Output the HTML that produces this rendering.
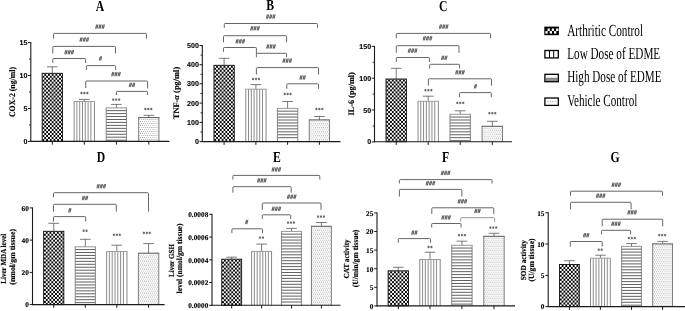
<!DOCTYPE html>
<html><head><meta charset="utf-8"><title>Figure</title>
<style>html,body{margin:0;padding:0;background:#fff;}svg{display:block;filter:blur(0.35px);}</style>
</head><body>
<svg width="685" height="311" viewBox="0 0 685 311" text-rendering="geometricPrecision">
<defs>
<pattern id="pc" width="2.3" height="2.3" patternUnits="userSpaceOnUse"><rect width="2.3" height="2.3" fill="#fff"/><rect x="0" y="0" width="1.25" height="1.25" fill="#000"/><rect x="1.15" y="1.15" width="1.25" height="1.25" fill="#000"/></pattern>
<pattern id="pd" width="2.2" height="4.1" patternUnits="userSpaceOnUse"><rect width="2.2" height="4.1" fill="#fff"/><rect x="0.3" y="0.6" width="0.8" height="0.8" fill="#b5b5b5"/><rect x="1.4" y="2.65" width="0.8" height="0.8" fill="#b5b5b5"/></pattern>
</defs>
<rect width="685" height="311" fill="#fff"/>
<line x1="52.3" y1="73.3" x2="52.3" y2="66.8" stroke="#555" stroke-width="0.78" />
<line x1="47" y1="66.8" x2="57.6" y2="66.8" stroke="#555" stroke-width="0.78" />
<pattern id="pc1" x="42.45" y="73.8" width="3.7" height="3.95" patternUnits="userSpaceOnUse"><rect width="3.7" height="3.95" fill="#000"/><rect x="0" y="0" width="1.85" height="1.975" fill="#fff"/><rect x="1.85" y="1.975" width="1.85" height="1.975" fill="#fff"/></pattern>
<rect x="42.15" y="73.3" width="20.3" height="68.1" fill="url(#pc1)" stroke="#111" stroke-width="0.9"/>
<line x1="84.3" y1="101.5" x2="84.3" y2="99.4" stroke="#555" stroke-width="0.78" />
<line x1="79" y1="99.4" x2="89.6" y2="99.4" stroke="#555" stroke-width="0.78" />
<rect x="74.15" y="101.5" width="20.3" height="39.9" fill="#fff" stroke="none"/>
<line x1="76.9" y1="101.5" x2="76.9" y2="141.4" stroke="#707070" stroke-width="0.8" />
<line x1="79.7" y1="101.5" x2="79.7" y2="141.4" stroke="#707070" stroke-width="0.8" />
<line x1="82.5" y1="101.5" x2="82.5" y2="141.4" stroke="#707070" stroke-width="0.8" />
<line x1="85.3" y1="101.5" x2="85.3" y2="141.4" stroke="#707070" stroke-width="0.8" />
<line x1="88.1" y1="101.5" x2="88.1" y2="141.4" stroke="#707070" stroke-width="0.8" />
<line x1="90.9" y1="101.5" x2="90.9" y2="141.4" stroke="#707070" stroke-width="0.8" />
<line x1="74.15" y1="101.5" x2="74.15" y2="141.4" stroke="#7a7a7a" stroke-width="0.9" />
<line x1="94.45" y1="101.5" x2="94.45" y2="141.4" stroke="#7a7a7a" stroke-width="0.9" />
<line x1="73.7" y1="101.5" x2="94.9" y2="101.5" stroke="#949494" stroke-width="0.9" />
<line x1="116.35" y1="107.9" x2="116.35" y2="104.4" stroke="#555" stroke-width="0.78" />
<line x1="111.05" y1="104.4" x2="121.65" y2="104.4" stroke="#555" stroke-width="0.78" />
<rect x="106.2" y="107.9" width="20.3" height="33.5" fill="#fff" stroke="none"/>
<line x1="106.2" y1="110.65" x2="126.5" y2="110.65" stroke="#383838" stroke-width="0.8" />
<line x1="106.2" y1="113.6" x2="126.5" y2="113.6" stroke="#383838" stroke-width="0.8" />
<line x1="106.2" y1="116.55" x2="126.5" y2="116.55" stroke="#383838" stroke-width="0.8" />
<line x1="106.2" y1="119.5" x2="126.5" y2="119.5" stroke="#383838" stroke-width="0.8" />
<line x1="106.2" y1="122.45" x2="126.5" y2="122.45" stroke="#383838" stroke-width="0.8" />
<line x1="106.2" y1="125.4" x2="126.5" y2="125.4" stroke="#383838" stroke-width="0.8" />
<line x1="106.2" y1="128.35" x2="126.5" y2="128.35" stroke="#383838" stroke-width="0.8" />
<line x1="106.2" y1="131.3" x2="126.5" y2="131.3" stroke="#383838" stroke-width="0.8" />
<line x1="106.2" y1="134.25" x2="126.5" y2="134.25" stroke="#383838" stroke-width="0.8" />
<line x1="106.2" y1="137.2" x2="126.5" y2="137.2" stroke="#383838" stroke-width="0.8" />
<line x1="106.2" y1="140.15" x2="126.5" y2="140.15" stroke="#383838" stroke-width="0.8" />
<line x1="106.2" y1="107.9" x2="106.2" y2="141.4" stroke="#7a7a7a" stroke-width="0.9" />
<line x1="126.5" y1="107.9" x2="126.5" y2="141.4" stroke="#7a7a7a" stroke-width="0.9" />
<line x1="105.75" y1="107.9" x2="126.95" y2="107.9" stroke="#8a8a8a" stroke-width="0.9" />
<line x1="148.8" y1="117.6" x2="148.8" y2="115.3" stroke="#555" stroke-width="0.78" />
<line x1="143.5" y1="115.3" x2="154.1" y2="115.3" stroke="#555" stroke-width="0.78" />
<pattern id="pd4x" x="138.85" y="119" width="2.06" height="4" patternUnits="userSpaceOnUse"><rect width="2.06" height="4" fill="#fff"/><rect x="0.25" y="0.15" width="0.75" height="0.75" fill="#777"/><rect x="1.28" y="2.15" width="0.75" height="0.75" fill="#777"/></pattern>
<rect x="138.65" y="117.6" width="20.3" height="23.8" fill="url(#pd4x)" stroke="none"/>
<line x1="138.65" y1="117.6" x2="138.65" y2="141.4" stroke="#6e6e6e" stroke-width="0.9" />
<line x1="158.95" y1="117.6" x2="158.95" y2="141.4" stroke="#6e6e6e" stroke-width="0.9" />
<line x1="138.2" y1="117.6" x2="159.4" y2="117.6" stroke="#555" stroke-width="1.0" />
<line x1="30.8" y1="42.1" x2="30.8" y2="141.9" stroke="#1a1a1a" stroke-width="1.1" />
<line x1="30.3" y1="141.4" x2="169.3" y2="141.4" stroke="#1a1a1a" stroke-width="1.1" />
<line x1="52.3" y1="141.4" x2="52.3" y2="144.6" stroke="#1a1a1a" stroke-width="1.0" />
<line x1="84.3" y1="141.4" x2="84.3" y2="144.6" stroke="#1a1a1a" stroke-width="1.0" />
<line x1="116.35" y1="141.4" x2="116.35" y2="144.6" stroke="#1a1a1a" stroke-width="1.0" />
<line x1="148.8" y1="141.4" x2="148.8" y2="144.6" stroke="#1a1a1a" stroke-width="1.0" />
<line x1="28" y1="141.4" x2="30.8" y2="141.4" stroke="#1a1a1a" stroke-width="1.0" />
<text x="27.4" y="143.95" font-family='"Liberation Sans", sans-serif' font-size="7.1" font-weight="bold" font-style="normal" text-anchor="end" fill="#000" stroke="#000" stroke-width="0.12">0</text>
<line x1="28" y1="108.5" x2="30.8" y2="108.5" stroke="#1a1a1a" stroke-width="1.0" />
<text x="27.4" y="111.05" font-family='"Liberation Sans", sans-serif' font-size="7.1" font-weight="bold" font-style="normal" text-anchor="end" fill="#000" stroke="#000" stroke-width="0.12">5</text>
<line x1="28" y1="75.5" x2="30.8" y2="75.5" stroke="#1a1a1a" stroke-width="1.0" />
<text x="27.4" y="78.05" font-family='"Liberation Sans", sans-serif' font-size="7.1" font-weight="bold" font-style="normal" text-anchor="end" fill="#000" stroke="#000" stroke-width="0.12">10</text>
<line x1="28" y1="42.6" x2="30.8" y2="42.6" stroke="#1a1a1a" stroke-width="1.0" />
<text x="27.4" y="45.15" font-family='"Liberation Sans", sans-serif' font-size="7.1" font-weight="bold" font-style="normal" text-anchor="end" fill="#000" stroke="#000" stroke-width="0.12">15</text>
<line x1="29" y1="125" x2="30.8" y2="125" stroke="#1a1a1a" stroke-width="0.9" />
<line x1="29" y1="92" x2="30.8" y2="92" stroke="#1a1a1a" stroke-width="0.9" />
<line x1="29" y1="59" x2="30.8" y2="59" stroke="#1a1a1a" stroke-width="0.9" />
<path d="M53.6 38.7 L53.6 34.2 Q53.6 33.4 54.4 33.4 L145.6 33.4 Q146.4 33.4 146.4 34.2 L146.4 38.7" fill="none" stroke="#555" stroke-width="0.9"/>
<path d="M95.65 25.9L98.3 25.9M95.3 27.3L97.95 27.3M98.85 25.9L101.5 25.9M98.5 27.3L101.15 27.3M102.05 25.9L104.7 25.9M101.7 27.3L104.35 27.3" fill="none" stroke="#555" stroke-width="0.5"/>
<path d="M96.74 24.45L95.62 28.75M97.98 24.45L96.86 28.75M99.94 24.45L98.82 28.75M101.18 24.45L100.06 28.75M103.14 24.45L102.02 28.75M104.38 24.45L103.26 28.75" fill="none" stroke="#484848" stroke-width="0.85"/>
<path d="M52.8 53.5 L52.8 47.2 Q52.8 46.4 53.6 46.4 L114.7 46.4 Q115.5 46.4 115.5 47.2 L115.5 53.5" fill="none" stroke="#555" stroke-width="0.9"/>
<path d="M79.95 38.8L82.6 38.8M79.6 40.2L82.25 40.2M83.15 38.8L85.8 38.8M82.8 40.2L85.45 40.2M86.35 38.8L89 38.8M86 40.2L88.65 40.2" fill="none" stroke="#555" stroke-width="0.5"/>
<path d="M81.04 37.35L79.92 41.65M82.28 37.35L81.16 41.65M84.24 37.35L83.12 41.65M85.48 37.35L84.36 41.65M87.44 37.35L86.32 41.65M88.68 37.35L87.56 41.65" fill="none" stroke="#484848" stroke-width="0.85"/>
<path d="M52.8 63 L52.8 59.3 Q52.8 58.5 53.6 58.5 L84.8 58.5 Q85.6 58.5 85.6 59.3 L85.6 63" fill="none" stroke="#555" stroke-width="0.9"/>
<path d="M64.85 51.5L67.5 51.5M64.5 52.9L67.15 52.9M68.05 51.5L70.7 51.5M67.7 52.9L70.35 52.9M71.25 51.5L73.9 51.5M70.9 52.9L73.55 52.9" fill="none" stroke="#555" stroke-width="0.5"/>
<path d="M65.94 50.05L64.82 54.35M67.18 50.05L66.06 54.35M69.14 50.05L68.02 54.35M70.38 50.05L69.26 54.35M72.34 50.05L71.22 54.35M73.58 50.05L72.46 54.35" fill="none" stroke="#484848" stroke-width="0.85"/>
<path d="M86.4 70 L86.4 66.4 Q86.4 65.6 87.2 65.6 L114.8 65.6 Q115.6 65.6 115.6 66.4 L115.6 70" fill="none" stroke="#555" stroke-width="0.9"/>
<path d="M99.35 57.7L102 57.7M99 59.1L101.65 59.1" fill="none" stroke="#555" stroke-width="0.5"/>
<path d="M100.44 56.25L99.32 60.55M101.68 56.25L100.56 60.55" fill="none" stroke="#484848" stroke-width="0.85"/>
<path d="M85.7 88 L85.7 81.8 Q85.7 81 86.5 81 L146.8 81 Q147.6 81 147.6 81.8 L147.6 88.4" fill="none" stroke="#555" stroke-width="0.9"/>
<path d="M111.65 73.4L114.3 73.4M111.3 74.8L113.95 74.8M114.85 73.4L117.5 73.4M114.5 74.8L117.15 74.8M118.05 73.4L120.7 73.4M117.7 74.8L120.35 74.8" fill="none" stroke="#555" stroke-width="0.5"/>
<path d="M112.74 71.95L111.62 76.25M113.98 71.95L112.86 76.25M115.94 71.95L114.82 76.25M117.18 71.95L116.06 76.25M119.14 71.95L118.02 76.25M120.38 71.95L119.26 76.25" fill="none" stroke="#484848" stroke-width="0.85"/>
<path d="M116.4 95 L116.4 92.2 Q116.4 91.4 117.2 91.4 L146.8 91.4 Q147.6 91.4 147.6 92.2 L147.6 95" fill="none" stroke="#555" stroke-width="0.9"/>
<path d="M129.25 84.2L131.9 84.2M128.9 85.6L131.55 85.6M132.45 84.2L135.1 84.2M132.1 85.6L134.75 85.6" fill="none" stroke="#555" stroke-width="0.5"/>
<path d="M130.34 82.75L129.22 87.05M131.58 82.75L130.46 87.05M133.54 82.75L132.42 87.05M134.78 82.75L133.66 87.05" fill="none" stroke="#484848" stroke-width="0.85"/>
<path d="M81.45 91.75L81.45 94.25M80.37 92.38L82.53 93.62M82.53 92.38L80.37 93.62M84.4 91.75L84.4 94.25M83.32 92.38L85.48 93.62M85.48 92.38L83.32 93.62M87.35 91.75L87.35 94.25M86.27 92.38L88.43 93.62M88.43 92.38L86.27 93.62" fill="none" stroke="#505050" stroke-width="0.72"/>
<path d="M113.25 98.35L113.25 100.85M112.17 98.97L114.33 100.22M114.33 98.97L112.17 100.22M116.2 98.35L116.2 100.85M115.12 98.97L117.28 100.22M117.28 98.97L115.12 100.22M119.15 98.35L119.15 100.85M118.07 98.97L120.23 100.22M120.23 98.97L118.07 100.22" fill="none" stroke="#505050" stroke-width="0.72"/>
<path d="M145.35 107.75L145.35 110.25M144.27 108.38L146.43 109.62M146.43 108.38L144.27 109.62M148.3 107.75L148.3 110.25M147.22 108.38L149.38 109.62M149.38 108.38L147.22 109.62M151.25 107.75L151.25 110.25M150.17 108.38L152.33 109.62M152.33 108.38L150.17 109.62" fill="none" stroke="#505050" stroke-width="0.72"/>
<text transform="translate(100 10.6) scale(0.77 1)" font-family='"Liberation Serif", serif' font-size="15.2" font-weight="bold" text-anchor="middle">A</text>
<text x="15.2" y="92" font-family='"Liberation Serif", serif' font-size="8.4" font-weight="bold" font-style="normal" text-anchor="middle" fill="#000" transform="rotate(-90 15.2 92)" textLength="50.2" lengthAdjust="spacingAndGlyphs" stroke="#000" stroke-width="0.16">COX-2 (ng/ml)</text>
<line x1="224.1" y1="65.3" x2="224.1" y2="58.3" stroke="#555" stroke-width="0.78" />
<line x1="218.8" y1="58.3" x2="229.4" y2="58.3" stroke="#555" stroke-width="0.78" />
<pattern id="pc5" x="214.25" y="65.8" width="3.7" height="3.95" patternUnits="userSpaceOnUse"><rect width="3.7" height="3.95" fill="#000"/><rect x="0" y="0" width="1.85" height="1.975" fill="#fff"/><rect x="1.85" y="1.975" width="1.85" height="1.975" fill="#fff"/></pattern>
<rect x="213.95" y="65.3" width="20.3" height="76.3" fill="url(#pc5)" stroke="#111" stroke-width="0.9"/>
<line x1="255.9" y1="89.2" x2="255.9" y2="84.6" stroke="#555" stroke-width="0.78" />
<line x1="250.6" y1="84.6" x2="261.2" y2="84.6" stroke="#555" stroke-width="0.78" />
<rect x="245.75" y="89.2" width="20.3" height="52.4" fill="#fff" stroke="none"/>
<line x1="248.5" y1="89.2" x2="248.5" y2="141.6" stroke="#707070" stroke-width="0.8" />
<line x1="251.3" y1="89.2" x2="251.3" y2="141.6" stroke="#707070" stroke-width="0.8" />
<line x1="254.1" y1="89.2" x2="254.1" y2="141.6" stroke="#707070" stroke-width="0.8" />
<line x1="256.9" y1="89.2" x2="256.9" y2="141.6" stroke="#707070" stroke-width="0.8" />
<line x1="259.7" y1="89.2" x2="259.7" y2="141.6" stroke="#707070" stroke-width="0.8" />
<line x1="262.5" y1="89.2" x2="262.5" y2="141.6" stroke="#707070" stroke-width="0.8" />
<line x1="245.75" y1="89.2" x2="245.75" y2="141.6" stroke="#7a7a7a" stroke-width="0.9" />
<line x1="266.05" y1="89.2" x2="266.05" y2="141.6" stroke="#7a7a7a" stroke-width="0.9" />
<line x1="245.3" y1="89.2" x2="266.5" y2="89.2" stroke="#949494" stroke-width="0.9" />
<line x1="287.6" y1="108.4" x2="287.6" y2="101.5" stroke="#555" stroke-width="0.78" />
<line x1="282.3" y1="101.5" x2="292.9" y2="101.5" stroke="#555" stroke-width="0.78" />
<rect x="277.45" y="108.4" width="20.3" height="33.2" fill="#fff" stroke="none"/>
<line x1="277.45" y1="111.15" x2="297.75" y2="111.15" stroke="#383838" stroke-width="0.8" />
<line x1="277.45" y1="114.1" x2="297.75" y2="114.1" stroke="#383838" stroke-width="0.8" />
<line x1="277.45" y1="117.05" x2="297.75" y2="117.05" stroke="#383838" stroke-width="0.8" />
<line x1="277.45" y1="120" x2="297.75" y2="120" stroke="#383838" stroke-width="0.8" />
<line x1="277.45" y1="122.95" x2="297.75" y2="122.95" stroke="#383838" stroke-width="0.8" />
<line x1="277.45" y1="125.9" x2="297.75" y2="125.9" stroke="#383838" stroke-width="0.8" />
<line x1="277.45" y1="128.85" x2="297.75" y2="128.85" stroke="#383838" stroke-width="0.8" />
<line x1="277.45" y1="131.8" x2="297.75" y2="131.8" stroke="#383838" stroke-width="0.8" />
<line x1="277.45" y1="134.75" x2="297.75" y2="134.75" stroke="#383838" stroke-width="0.8" />
<line x1="277.45" y1="137.7" x2="297.75" y2="137.7" stroke="#383838" stroke-width="0.8" />
<line x1="277.45" y1="108.4" x2="277.45" y2="141.6" stroke="#7a7a7a" stroke-width="0.9" />
<line x1="297.75" y1="108.4" x2="297.75" y2="141.6" stroke="#7a7a7a" stroke-width="0.9" />
<line x1="277" y1="108.4" x2="298.2" y2="108.4" stroke="#8a8a8a" stroke-width="0.9" />
<line x1="319.4" y1="119.9" x2="319.4" y2="116.5" stroke="#555" stroke-width="0.78" />
<line x1="314.1" y1="116.5" x2="324.7" y2="116.5" stroke="#555" stroke-width="0.78" />
<pattern id="pd8x" x="309.45" y="121.3" width="2.06" height="4" patternUnits="userSpaceOnUse"><rect width="2.06" height="4" fill="#fff"/><rect x="0.25" y="0.15" width="0.75" height="0.75" fill="#777"/><rect x="1.28" y="2.15" width="0.75" height="0.75" fill="#777"/></pattern>
<rect x="309.25" y="119.9" width="20.3" height="21.7" fill="url(#pd8x)" stroke="none"/>
<line x1="309.25" y1="119.9" x2="309.25" y2="141.6" stroke="#6e6e6e" stroke-width="0.9" />
<line x1="329.55" y1="119.9" x2="329.55" y2="141.6" stroke="#6e6e6e" stroke-width="0.9" />
<line x1="308.8" y1="119.9" x2="330" y2="119.9" stroke="#555" stroke-width="1.0" />
<line x1="202.3" y1="45" x2="202.3" y2="142.1" stroke="#1a1a1a" stroke-width="1.1" />
<line x1="201.8" y1="141.6" x2="340.5" y2="141.6" stroke="#1a1a1a" stroke-width="1.1" />
<line x1="224.1" y1="141.6" x2="224.1" y2="144.8" stroke="#1a1a1a" stroke-width="1.0" />
<line x1="255.9" y1="141.6" x2="255.9" y2="144.8" stroke="#1a1a1a" stroke-width="1.0" />
<line x1="287.6" y1="141.6" x2="287.6" y2="144.8" stroke="#1a1a1a" stroke-width="1.0" />
<line x1="319.4" y1="141.6" x2="319.4" y2="144.8" stroke="#1a1a1a" stroke-width="1.0" />
<line x1="199.5" y1="141.6" x2="202.3" y2="141.6" stroke="#1a1a1a" stroke-width="1.0" />
<text x="198.9" y="144.15" font-family='"Liberation Sans", sans-serif' font-size="7.1" font-weight="bold" font-style="normal" text-anchor="end" fill="#000" stroke="#000" stroke-width="0.12">0</text>
<line x1="199.5" y1="122.4" x2="202.3" y2="122.4" stroke="#1a1a1a" stroke-width="1.0" />
<text x="198.9" y="124.95" font-family='"Liberation Sans", sans-serif' font-size="7.1" font-weight="bold" font-style="normal" text-anchor="end" fill="#000" stroke="#000" stroke-width="0.12">100</text>
<line x1="199.5" y1="103.1" x2="202.3" y2="103.1" stroke="#1a1a1a" stroke-width="1.0" />
<text x="198.9" y="105.65" font-family='"Liberation Sans", sans-serif' font-size="7.1" font-weight="bold" font-style="normal" text-anchor="end" fill="#000" stroke="#000" stroke-width="0.12">200</text>
<line x1="199.5" y1="83.8" x2="202.3" y2="83.8" stroke="#1a1a1a" stroke-width="1.0" />
<text x="198.9" y="86.35" font-family='"Liberation Sans", sans-serif' font-size="7.1" font-weight="bold" font-style="normal" text-anchor="end" fill="#000" stroke="#000" stroke-width="0.12">300</text>
<line x1="199.5" y1="64.7" x2="202.3" y2="64.7" stroke="#1a1a1a" stroke-width="1.0" />
<text x="198.9" y="67.25" font-family='"Liberation Sans", sans-serif' font-size="7.1" font-weight="bold" font-style="normal" text-anchor="end" fill="#000" stroke="#000" stroke-width="0.12">400</text>
<line x1="199.5" y1="45.5" x2="202.3" y2="45.5" stroke="#1a1a1a" stroke-width="1.0" />
<text x="198.9" y="48.05" font-family='"Liberation Sans", sans-serif' font-size="7.1" font-weight="bold" font-style="normal" text-anchor="end" fill="#000" stroke="#000" stroke-width="0.12">500</text>
<line x1="200.5" y1="132" x2="202.3" y2="132" stroke="#1a1a1a" stroke-width="0.9" />
<line x1="200.5" y1="112.8" x2="202.3" y2="112.8" stroke="#1a1a1a" stroke-width="0.9" />
<line x1="200.5" y1="93.5" x2="202.3" y2="93.5" stroke="#1a1a1a" stroke-width="0.9" />
<line x1="200.5" y1="74.3" x2="202.3" y2="74.3" stroke="#1a1a1a" stroke-width="0.9" />
<line x1="200.5" y1="55.1" x2="202.3" y2="55.1" stroke="#1a1a1a" stroke-width="0.9" />
<path d="M224.3 27.8 L224.3 24.3 Q224.3 23.5 225.1 23.5 L316.7 23.5 Q317.5 23.5 317.5 24.3 L317.5 27.8" fill="none" stroke="#555" stroke-width="0.9"/>
<path d="M266.35 15.9L269 15.9M266 17.3L268.65 17.3M269.55 15.9L272.2 15.9M269.2 17.3L271.85 17.3M272.75 15.9L275.4 15.9M272.4 17.3L275.05 17.3" fill="none" stroke="#555" stroke-width="0.5"/>
<path d="M267.44 14.45L266.32 18.75M268.68 14.45L267.56 18.75M270.64 14.45L269.52 18.75M271.88 14.45L270.76 18.75M273.84 14.45L272.72 18.75M275.08 14.45L273.96 18.75" fill="none" stroke="#484848" stroke-width="0.85"/>
<path d="M223.5 42.2 L223.5 36.5 Q223.5 35.7 224.3 35.7 L285.8 35.7 Q286.6 35.7 286.6 36.5 L286.6 42.2" fill="none" stroke="#555" stroke-width="0.9"/>
<path d="M250.65 27.6L253.3 27.6M250.3 29L252.95 29M253.85 27.6L256.5 27.6M253.5 29L256.15 29M257.05 27.6L259.7 27.6M256.7 29L259.35 29" fill="none" stroke="#555" stroke-width="0.5"/>
<path d="M251.74 26.15L250.62 30.45M252.98 26.15L251.86 30.45M254.94 26.15L253.82 30.45M256.18 26.15L255.06 30.45M258.14 26.15L257.02 30.45M259.38 26.15L258.26 30.45" fill="none" stroke="#484848" stroke-width="0.85"/>
<path d="M223.5 51.8 L223.5 48.3 Q223.5 47.5 224.3 47.5 L255.6 47.5 Q256.4 47.5 256.4 48.3 L256.4 53.5" fill="none" stroke="#555" stroke-width="0.9"/>
<path d="M235.95 40.6L238.6 40.6M235.6 42L238.25 42M239.15 40.6L241.8 40.6M238.8 42L241.45 42M242.35 40.6L245 40.6M242 42L244.65 42" fill="none" stroke="#555" stroke-width="0.5"/>
<path d="M237.04 39.15L235.92 43.45M238.28 39.15L237.16 43.45M240.24 39.15L239.12 43.45M241.48 39.15L240.36 43.45M243.44 39.15L242.32 43.45M244.68 39.15L243.56 43.45" fill="none" stroke="#484848" stroke-width="0.85"/>
<path d="M256.4 57.3 L256.4 54.1 Q256.4 53.3 257.2 53.3 L285.8 53.3 Q286.6 53.3 286.6 54.1 L286.6 57.3" fill="none" stroke="#555" stroke-width="0.9"/>
<path d="M266.65 45.8L269.3 45.8M266.3 47.2L268.95 47.2M269.85 45.8L272.5 45.8M269.5 47.2L272.15 47.2M273.05 45.8L275.7 45.8M272.7 47.2L275.35 47.2" fill="none" stroke="#555" stroke-width="0.5"/>
<path d="M267.74 44.35L266.62 48.65M268.98 44.35L267.86 48.65M270.94 44.35L269.82 48.65M272.18 44.35L271.06 48.65M274.14 44.35L273.02 48.65M275.38 44.35L274.26 48.65" fill="none" stroke="#484848" stroke-width="0.85"/>
<path d="M256.4 74.5 L256.4 68.4 Q256.4 67.6 257.2 67.6 L317.7 67.6 Q318.5 67.6 318.5 68.4 L318.5 74.5" fill="none" stroke="#555" stroke-width="0.9"/>
<path d="M282.85 59.9L285.5 59.9M282.5 61.3L285.15 61.3M286.05 59.9L288.7 59.9M285.7 61.3L288.35 61.3M289.25 59.9L291.9 59.9M288.9 61.3L291.55 61.3" fill="none" stroke="#555" stroke-width="0.5"/>
<path d="M283.94 58.45L282.82 62.75M285.18 58.45L284.06 62.75M287.14 58.45L286.02 62.75M288.38 58.45L287.26 62.75M290.34 58.45L289.22 62.75M291.58 58.45L290.46 62.75" fill="none" stroke="#484848" stroke-width="0.85"/>
<path d="M286.8 88.8 L286.8 84.6 Q286.8 83.8 287.6 83.8 L317.7 83.8 Q318.5 83.8 318.5 84.6 L318.5 88.8" fill="none" stroke="#555" stroke-width="0.9"/>
<path d="M299.85 76.8L302.5 76.8M299.5 78.2L302.15 78.2M303.05 76.8L305.7 76.8M302.7 78.2L305.35 78.2" fill="none" stroke="#555" stroke-width="0.5"/>
<path d="M300.94 75.35L299.82 79.65M302.18 75.35L301.06 79.65M304.14 75.35L303.02 79.65M305.38 75.35L304.26 79.65" fill="none" stroke="#484848" stroke-width="0.85"/>
<path d="M253.05 77.75L253.05 80.25M251.97 78.38L254.13 79.62M254.13 78.38L251.97 79.62M256 77.75L256 80.25M254.92 78.38L257.08 79.62M257.08 78.38L254.92 79.62M258.95 77.75L258.95 80.25M257.87 78.38L260.03 79.62M260.03 78.38L257.87 79.62" fill="none" stroke="#505050" stroke-width="0.72"/>
<path d="M284.65 92.75L284.65 95.25M283.57 93.38L285.73 94.62M285.73 93.38L283.57 94.62M287.6 92.75L287.6 95.25M286.52 93.38L288.68 94.62M288.68 93.38L286.52 94.62M290.55 92.75L290.55 95.25M289.47 93.38L291.63 94.62M291.63 93.38L289.47 94.62" fill="none" stroke="#505050" stroke-width="0.72"/>
<path d="M316.45 107.75L316.45 110.25M315.37 108.38L317.53 109.62M317.53 108.38L315.37 109.62M319.4 107.75L319.4 110.25M318.32 108.38L320.48 109.62M320.48 108.38L318.32 109.62M322.35 107.75L322.35 110.25M321.27 108.38L323.43 109.62M323.43 108.38L321.27 109.62" fill="none" stroke="#505050" stroke-width="0.72"/>
<text transform="translate(270.2 9.6) scale(0.77 1)" font-family='"Liberation Serif", serif' font-size="15.2" font-weight="bold" text-anchor="middle">B</text>
<text x="179.3" y="93" font-family='"Liberation Serif", serif' font-size="8.4" font-weight="bold" font-style="normal" text-anchor="middle" fill="#000" transform="rotate(-90 179.3 93)" textLength="52.4" lengthAdjust="spacingAndGlyphs" stroke="#000" stroke-width="0.16">TNF-<tspan font-style="italic">α</tspan> (pg/ml)</text>
<line x1="396.2" y1="79" x2="396.2" y2="68.3" stroke="#555" stroke-width="0.78" />
<line x1="390.9" y1="68.3" x2="401.5" y2="68.3" stroke="#555" stroke-width="0.78" />
<pattern id="pc9" x="386.3" y="79.5" width="3.7" height="3.95" patternUnits="userSpaceOnUse"><rect width="3.7" height="3.95" fill="#000"/><rect x="0" y="0" width="1.85" height="1.975" fill="#fff"/><rect x="1.85" y="1.975" width="1.85" height="1.975" fill="#fff"/></pattern>
<rect x="386" y="79" width="20.4" height="62.7" fill="url(#pc9)" stroke="#111" stroke-width="0.9"/>
<line x1="428.2" y1="101.3" x2="428.2" y2="96.2" stroke="#555" stroke-width="0.78" />
<line x1="422.9" y1="96.2" x2="433.5" y2="96.2" stroke="#555" stroke-width="0.78" />
<rect x="418" y="101.3" width="20.4" height="40.4" fill="#fff" stroke="none"/>
<line x1="420.75" y1="101.3" x2="420.75" y2="141.7" stroke="#707070" stroke-width="0.8" />
<line x1="423.55" y1="101.3" x2="423.55" y2="141.7" stroke="#707070" stroke-width="0.8" />
<line x1="426.35" y1="101.3" x2="426.35" y2="141.7" stroke="#707070" stroke-width="0.8" />
<line x1="429.15" y1="101.3" x2="429.15" y2="141.7" stroke="#707070" stroke-width="0.8" />
<line x1="431.95" y1="101.3" x2="431.95" y2="141.7" stroke="#707070" stroke-width="0.8" />
<line x1="434.75" y1="101.3" x2="434.75" y2="141.7" stroke="#707070" stroke-width="0.8" />
<line x1="418" y1="101.3" x2="418" y2="141.7" stroke="#7a7a7a" stroke-width="0.9" />
<line x1="438.4" y1="101.3" x2="438.4" y2="141.7" stroke="#7a7a7a" stroke-width="0.9" />
<line x1="417.55" y1="101.3" x2="438.85" y2="101.3" stroke="#949494" stroke-width="0.9" />
<line x1="460.2" y1="114.3" x2="460.2" y2="110.8" stroke="#555" stroke-width="0.78" />
<line x1="454.9" y1="110.8" x2="465.5" y2="110.8" stroke="#555" stroke-width="0.78" />
<rect x="450" y="114.3" width="20.4" height="27.4" fill="#fff" stroke="none"/>
<line x1="450" y1="117.05" x2="470.4" y2="117.05" stroke="#383838" stroke-width="0.8" />
<line x1="450" y1="120" x2="470.4" y2="120" stroke="#383838" stroke-width="0.8" />
<line x1="450" y1="122.95" x2="470.4" y2="122.95" stroke="#383838" stroke-width="0.8" />
<line x1="450" y1="125.9" x2="470.4" y2="125.9" stroke="#383838" stroke-width="0.8" />
<line x1="450" y1="128.85" x2="470.4" y2="128.85" stroke="#383838" stroke-width="0.8" />
<line x1="450" y1="131.8" x2="470.4" y2="131.8" stroke="#383838" stroke-width="0.8" />
<line x1="450" y1="134.75" x2="470.4" y2="134.75" stroke="#383838" stroke-width="0.8" />
<line x1="450" y1="137.7" x2="470.4" y2="137.7" stroke="#383838" stroke-width="0.8" />
<line x1="450" y1="140.65" x2="470.4" y2="140.65" stroke="#383838" stroke-width="0.8" />
<line x1="450" y1="114.3" x2="450" y2="141.7" stroke="#7a7a7a" stroke-width="0.9" />
<line x1="470.4" y1="114.3" x2="470.4" y2="141.7" stroke="#7a7a7a" stroke-width="0.9" />
<line x1="449.55" y1="114.3" x2="470.85" y2="114.3" stroke="#8a8a8a" stroke-width="0.9" />
<line x1="492.3" y1="126.3" x2="492.3" y2="121.3" stroke="#555" stroke-width="0.78" />
<line x1="487" y1="121.3" x2="497.6" y2="121.3" stroke="#555" stroke-width="0.78" />
<pattern id="pd12x" x="482.3" y="127.7" width="2.06" height="4" patternUnits="userSpaceOnUse"><rect width="2.06" height="4" fill="#fff"/><rect x="0.25" y="0.15" width="0.75" height="0.75" fill="#777"/><rect x="1.28" y="2.15" width="0.75" height="0.75" fill="#777"/></pattern>
<rect x="482.1" y="126.3" width="20.4" height="15.4" fill="url(#pd12x)" stroke="none"/>
<line x1="482.1" y1="126.3" x2="482.1" y2="141.7" stroke="#6e6e6e" stroke-width="0.9" />
<line x1="502.5" y1="126.3" x2="502.5" y2="141.7" stroke="#6e6e6e" stroke-width="0.9" />
<line x1="481.65" y1="126.3" x2="502.95" y2="126.3" stroke="#555" stroke-width="1.0" />
<line x1="374.5" y1="45.9" x2="374.5" y2="142.2" stroke="#1a1a1a" stroke-width="1.1" />
<line x1="374" y1="141.7" x2="512" y2="141.7" stroke="#1a1a1a" stroke-width="1.1" />
<line x1="396.2" y1="141.7" x2="396.2" y2="144.9" stroke="#1a1a1a" stroke-width="1.0" />
<line x1="428.2" y1="141.7" x2="428.2" y2="144.9" stroke="#1a1a1a" stroke-width="1.0" />
<line x1="460.2" y1="141.7" x2="460.2" y2="144.9" stroke="#1a1a1a" stroke-width="1.0" />
<line x1="492.3" y1="141.7" x2="492.3" y2="144.9" stroke="#1a1a1a" stroke-width="1.0" />
<line x1="371.7" y1="141.9" x2="374.5" y2="141.9" stroke="#1a1a1a" stroke-width="1.0" />
<text x="371.1" y="144.45" font-family='"Liberation Sans", sans-serif' font-size="7.1" font-weight="bold" font-style="normal" text-anchor="end" fill="#000" stroke="#000" stroke-width="0.12">0</text>
<line x1="371.7" y1="110" x2="374.5" y2="110" stroke="#1a1a1a" stroke-width="1.0" />
<text x="371.1" y="112.55" font-family='"Liberation Sans", sans-serif' font-size="7.1" font-weight="bold" font-style="normal" text-anchor="end" fill="#000" stroke="#000" stroke-width="0.12">50</text>
<line x1="371.7" y1="78.2" x2="374.5" y2="78.2" stroke="#1a1a1a" stroke-width="1.0" />
<text x="371.1" y="80.75" font-family='"Liberation Sans", sans-serif' font-size="7.1" font-weight="bold" font-style="normal" text-anchor="end" fill="#000" stroke="#000" stroke-width="0.12">100</text>
<line x1="371.7" y1="46.4" x2="374.5" y2="46.4" stroke="#1a1a1a" stroke-width="1.0" />
<text x="371.1" y="48.95" font-family='"Liberation Sans", sans-serif' font-size="7.1" font-weight="bold" font-style="normal" text-anchor="end" fill="#000" stroke="#000" stroke-width="0.12">150</text>
<line x1="372.7" y1="126" x2="374.5" y2="126" stroke="#1a1a1a" stroke-width="0.9" />
<line x1="372.7" y1="94.1" x2="374.5" y2="94.1" stroke="#1a1a1a" stroke-width="0.9" />
<line x1="372.7" y1="62.3" x2="374.5" y2="62.3" stroke="#1a1a1a" stroke-width="0.9" />
<path d="M396.3 38.4 L396.3 34.2 Q396.3 33.4 397.1 33.4 L489.7 33.4 Q490.5 33.4 490.5 34.2 L490.5 38.4" fill="none" stroke="#555" stroke-width="0.9"/>
<path d="M439.35 25.9L442 25.9M439 27.3L441.65 27.3M442.55 25.9L445.2 25.9M442.2 27.3L444.85 27.3M445.75 25.9L448.4 25.9M445.4 27.3L448.05 27.3" fill="none" stroke="#555" stroke-width="0.5"/>
<path d="M440.44 24.45L439.32 28.75M441.68 24.45L440.56 28.75M443.64 24.45L442.52 28.75M444.88 24.45L443.76 28.75M446.84 24.45L445.72 28.75M448.08 24.45L446.96 28.75" fill="none" stroke="#484848" stroke-width="0.85"/>
<path d="M396.3 52.8 L396.3 46.5 Q396.3 45.7 397.1 45.7 L458.2 45.7 Q459 45.7 459 46.5 L459 52.8" fill="none" stroke="#555" stroke-width="0.9"/>
<path d="M423.15 37.6L425.8 37.6M422.8 39L425.45 39M426.35 37.6L429 37.6M426 39L428.65 39M429.55 37.6L432.2 37.6M429.2 39L431.85 39" fill="none" stroke="#555" stroke-width="0.5"/>
<path d="M424.24 36.15L423.12 40.45M425.48 36.15L424.36 40.45M427.44 36.15L426.32 40.45M428.68 36.15L427.56 40.45M430.64 36.15L429.52 40.45M431.88 36.15L430.76 40.45" fill="none" stroke="#484848" stroke-width="0.85"/>
<path d="M396.3 62 L396.3 58.3 Q396.3 57.5 397.1 57.5 L428.6 57.5 Q429.4 57.5 429.4 58.3 L429.4 62" fill="none" stroke="#555" stroke-width="0.9"/>
<path d="M408.25 49.9L410.9 49.9M407.9 51.3L410.55 51.3M411.45 49.9L414.1 49.9M411.1 51.3L413.75 51.3M414.65 49.9L417.3 49.9M414.3 51.3L416.95 51.3" fill="none" stroke="#555" stroke-width="0.5"/>
<path d="M409.34 48.45L408.22 52.75M410.58 48.45L409.46 52.75M412.54 48.45L411.42 52.75M413.78 48.45L412.66 52.75M415.74 48.45L414.62 52.75M416.98 48.45L415.86 52.75" fill="none" stroke="#484848" stroke-width="0.85"/>
<path d="M429.7 68.6 L429.7 65.1 Q429.7 64.3 430.5 64.3 L458.8 64.3 Q459.6 64.3 459.6 65.1 L459.6 68.6" fill="none" stroke="#555" stroke-width="0.9"/>
<path d="M441.55 57.1L444.2 57.1M441.2 58.5L443.85 58.5M444.75 57.1L447.4 57.1M444.4 58.5L447.05 58.5" fill="none" stroke="#555" stroke-width="0.5"/>
<path d="M442.64 55.65L441.52 59.95M443.88 55.65L442.76 59.95M445.84 55.65L444.72 59.95M447.08 55.65L445.96 59.95" fill="none" stroke="#484848" stroke-width="0.85"/>
<path d="M428.4 85.6 L428.4 79.6 Q428.4 78.8 429.2 78.8 L490.7 78.8 Q491.5 78.8 491.5 79.6 L491.5 85.6" fill="none" stroke="#555" stroke-width="0.9"/>
<path d="M455.65 71.6L458.3 71.6M455.3 73L457.95 73M458.85 71.6L461.5 71.6M458.5 73L461.15 73M462.05 71.6L464.7 71.6M461.7 73L464.35 73" fill="none" stroke="#555" stroke-width="0.5"/>
<path d="M456.74 70.15L455.62 74.45M457.98 70.15L456.86 74.45M459.94 70.15L458.82 74.45M461.18 70.15L460.06 74.45M463.14 70.15L462.02 74.45M464.38 70.15L463.26 74.45" fill="none" stroke="#484848" stroke-width="0.85"/>
<path d="M459.6 97.2 L459.6 93.4 Q459.6 92.6 460.4 92.6 L490.5 92.6 Q491.3 92.6 491.3 93.4 L491.3 97.2" fill="none" stroke="#555" stroke-width="0.9"/>
<path d="M474.35 85.6L477 85.6M474 87L476.65 87" fill="none" stroke="#555" stroke-width="0.5"/>
<path d="M475.44 84.15L474.32 88.45M476.68 84.15L475.56 88.45" fill="none" stroke="#484848" stroke-width="0.85"/>
<path d="M425.45 88.95L425.45 91.45M424.37 89.58L426.53 90.83M426.53 89.58L424.37 90.83M428.4 88.95L428.4 91.45M427.32 89.58L429.48 90.83M429.48 89.58L427.32 90.83M431.35 88.95L431.35 91.45M430.27 89.58L432.43 90.83M432.43 89.58L430.27 90.83" fill="none" stroke="#505050" stroke-width="0.72"/>
<path d="M457.35 101.65L457.35 104.15M456.27 102.28L458.43 103.53M458.43 102.28L456.27 103.53M460.3 101.65L460.3 104.15M459.22 102.28L461.38 103.53M461.38 102.28L459.22 103.53M463.25 101.65L463.25 104.15M462.17 102.28L464.33 103.53M464.33 102.28L462.17 103.53" fill="none" stroke="#505050" stroke-width="0.72"/>
<path d="M489.35 111.95L489.35 114.45M488.27 112.58L490.43 113.83M490.43 112.58L488.27 113.83M492.3 111.95L492.3 114.45M491.22 112.58L493.38 113.83M493.38 112.58L491.22 113.83M495.25 111.95L495.25 114.45M494.17 112.58L496.33 113.83M496.33 112.58L494.17 113.83" fill="none" stroke="#505050" stroke-width="0.72"/>
<text transform="translate(443.2 10.6) scale(0.77 1)" font-family='"Liberation Serif", serif' font-size="15.2" font-weight="bold" text-anchor="middle">C</text>
<text x="353.9" y="93.8" font-family='"Liberation Serif", serif' font-size="8.4" font-weight="bold" font-style="normal" text-anchor="middle" fill="#000" transform="rotate(-90 353.9 93.8)" textLength="43.2" lengthAdjust="spacingAndGlyphs" stroke="#000" stroke-width="0.16">IL-6 (pg/ml)</text>
<line x1="53.75" y1="231.3" x2="53.75" y2="223.3" stroke="#555" stroke-width="0.78" />
<line x1="48.45" y1="223.3" x2="59.05" y2="223.3" stroke="#555" stroke-width="0.78" />
<pattern id="pc13" x="43.95" y="231.8" width="3.7" height="3.95" patternUnits="userSpaceOnUse"><rect width="3.7" height="3.95" fill="#000"/><rect x="0" y="0" width="1.85" height="1.975" fill="#fff"/><rect x="1.85" y="1.975" width="1.85" height="1.975" fill="#fff"/></pattern>
<rect x="43.65" y="231.3" width="20.2" height="73.3" fill="url(#pc13)" stroke="#111" stroke-width="0.9"/>
<line x1="85.3" y1="246.8" x2="85.3" y2="239.3" stroke="#555" stroke-width="0.78" />
<line x1="80" y1="239.3" x2="90.6" y2="239.3" stroke="#555" stroke-width="0.78" />
<rect x="75.2" y="246.8" width="20.2" height="57.8" fill="#fff" stroke="none"/>
<line x1="75.2" y1="249.55" x2="95.4" y2="249.55" stroke="#383838" stroke-width="0.8" />
<line x1="75.2" y1="252.5" x2="95.4" y2="252.5" stroke="#383838" stroke-width="0.8" />
<line x1="75.2" y1="255.45" x2="95.4" y2="255.45" stroke="#383838" stroke-width="0.8" />
<line x1="75.2" y1="258.4" x2="95.4" y2="258.4" stroke="#383838" stroke-width="0.8" />
<line x1="75.2" y1="261.35" x2="95.4" y2="261.35" stroke="#383838" stroke-width="0.8" />
<line x1="75.2" y1="264.3" x2="95.4" y2="264.3" stroke="#383838" stroke-width="0.8" />
<line x1="75.2" y1="267.25" x2="95.4" y2="267.25" stroke="#383838" stroke-width="0.8" />
<line x1="75.2" y1="270.2" x2="95.4" y2="270.2" stroke="#383838" stroke-width="0.8" />
<line x1="75.2" y1="273.15" x2="95.4" y2="273.15" stroke="#383838" stroke-width="0.8" />
<line x1="75.2" y1="276.1" x2="95.4" y2="276.1" stroke="#383838" stroke-width="0.8" />
<line x1="75.2" y1="279.05" x2="95.4" y2="279.05" stroke="#383838" stroke-width="0.8" />
<line x1="75.2" y1="282" x2="95.4" y2="282" stroke="#383838" stroke-width="0.8" />
<line x1="75.2" y1="284.95" x2="95.4" y2="284.95" stroke="#383838" stroke-width="0.8" />
<line x1="75.2" y1="287.9" x2="95.4" y2="287.9" stroke="#383838" stroke-width="0.8" />
<line x1="75.2" y1="290.85" x2="95.4" y2="290.85" stroke="#383838" stroke-width="0.8" />
<line x1="75.2" y1="293.8" x2="95.4" y2="293.8" stroke="#383838" stroke-width="0.8" />
<line x1="75.2" y1="296.75" x2="95.4" y2="296.75" stroke="#383838" stroke-width="0.8" />
<line x1="75.2" y1="299.7" x2="95.4" y2="299.7" stroke="#383838" stroke-width="0.8" />
<line x1="75.2" y1="302.65" x2="95.4" y2="302.65" stroke="#383838" stroke-width="0.8" />
<line x1="75.2" y1="246.8" x2="75.2" y2="304.6" stroke="#7a7a7a" stroke-width="0.9" />
<line x1="95.4" y1="246.8" x2="95.4" y2="304.6" stroke="#7a7a7a" stroke-width="0.9" />
<line x1="74.75" y1="246.8" x2="95.85" y2="246.8" stroke="#8a8a8a" stroke-width="0.9" />
<line x1="116.8" y1="251.5" x2="116.8" y2="245.2" stroke="#555" stroke-width="0.78" />
<line x1="111.5" y1="245.2" x2="122.1" y2="245.2" stroke="#555" stroke-width="0.78" />
<rect x="106.65" y="251.5" width="20.3" height="53.1" fill="#fff" stroke="none"/>
<line x1="109.4" y1="251.5" x2="109.4" y2="304.6" stroke="#707070" stroke-width="0.8" />
<line x1="112.2" y1="251.5" x2="112.2" y2="304.6" stroke="#707070" stroke-width="0.8" />
<line x1="115" y1="251.5" x2="115" y2="304.6" stroke="#707070" stroke-width="0.8" />
<line x1="117.8" y1="251.5" x2="117.8" y2="304.6" stroke="#707070" stroke-width="0.8" />
<line x1="120.6" y1="251.5" x2="120.6" y2="304.6" stroke="#707070" stroke-width="0.8" />
<line x1="123.4" y1="251.5" x2="123.4" y2="304.6" stroke="#707070" stroke-width="0.8" />
<line x1="106.65" y1="251.5" x2="106.65" y2="304.6" stroke="#7a7a7a" stroke-width="0.9" />
<line x1="126.95" y1="251.5" x2="126.95" y2="304.6" stroke="#7a7a7a" stroke-width="0.9" />
<line x1="106.2" y1="251.5" x2="127.4" y2="251.5" stroke="#949494" stroke-width="0.9" />
<line x1="148.6" y1="253.2" x2="148.6" y2="243.6" stroke="#555" stroke-width="0.78" />
<line x1="143.3" y1="243.6" x2="153.9" y2="243.6" stroke="#555" stroke-width="0.78" />
<pattern id="pd16x" x="138.65" y="254.6" width="2.06" height="4" patternUnits="userSpaceOnUse"><rect width="2.06" height="4" fill="#fff"/><rect x="0.25" y="0.15" width="0.75" height="0.75" fill="#777"/><rect x="1.28" y="2.15" width="0.75" height="0.75" fill="#777"/></pattern>
<rect x="138.45" y="253.2" width="20.3" height="51.4" fill="url(#pd16x)" stroke="none"/>
<line x1="138.45" y1="253.2" x2="138.45" y2="304.6" stroke="#6e6e6e" stroke-width="0.9" />
<line x1="158.75" y1="253.2" x2="158.75" y2="304.6" stroke="#6e6e6e" stroke-width="0.9" />
<line x1="138" y1="253.2" x2="159.2" y2="253.2" stroke="#555" stroke-width="1.0" />
<line x1="32.5" y1="207.4" x2="32.5" y2="305.1" stroke="#1a1a1a" stroke-width="1.1" />
<line x1="32" y1="304.6" x2="164.6" y2="304.6" stroke="#1a1a1a" stroke-width="1.1" />
<line x1="53.75" y1="304.6" x2="53.75" y2="307.8" stroke="#1a1a1a" stroke-width="1.0" />
<line x1="85.3" y1="304.6" x2="85.3" y2="307.8" stroke="#1a1a1a" stroke-width="1.0" />
<line x1="116.8" y1="304.6" x2="116.8" y2="307.8" stroke="#1a1a1a" stroke-width="1.0" />
<line x1="148.6" y1="304.6" x2="148.6" y2="307.8" stroke="#1a1a1a" stroke-width="1.0" />
<line x1="29.7" y1="304.6" x2="32.5" y2="304.6" stroke="#1a1a1a" stroke-width="1.0" />
<text x="28.8" y="307.45" font-family='"Liberation Serif", serif' font-size="7.3" font-weight="bold" font-style="normal" text-anchor="end" fill="#000" stroke="#000" stroke-width="0.12">0</text>
<line x1="29.7" y1="272.4" x2="32.5" y2="272.4" stroke="#1a1a1a" stroke-width="1.0" />
<text x="28.8" y="275.25" font-family='"Liberation Serif", serif' font-size="7.3" font-weight="bold" font-style="normal" text-anchor="end" fill="#000" stroke="#000" stroke-width="0.12">20</text>
<line x1="29.7" y1="240.1" x2="32.5" y2="240.1" stroke="#1a1a1a" stroke-width="1.0" />
<text x="28.8" y="242.95" font-family='"Liberation Serif", serif' font-size="7.3" font-weight="bold" font-style="normal" text-anchor="end" fill="#000" stroke="#000" stroke-width="0.12">40</text>
<line x1="29.7" y1="207.9" x2="32.5" y2="207.9" stroke="#1a1a1a" stroke-width="1.0" />
<text x="28.8" y="210.75" font-family='"Liberation Serif", serif' font-size="7.3" font-weight="bold" font-style="normal" text-anchor="end" fill="#000" stroke="#000" stroke-width="0.12">60</text>
<path d="M53.5 197.2 L53.5 193.5 Q53.5 192.7 54.3 192.7 L147.7 192.7 Q148.5 192.7 148.5 193.5 L148.5 211.6" fill="none" stroke="#555" stroke-width="0.9"/>
<path d="M96.95 185.5L99.6 185.5M96.6 186.9L99.25 186.9M100.15 185.5L102.8 185.5M99.8 186.9L102.45 186.9M103.35 185.5L106 185.5M103 186.9L105.65 186.9" fill="none" stroke="#555" stroke-width="0.5"/>
<path d="M98.04 184.05L96.92 188.35M99.28 184.05L98.16 188.35M101.24 184.05L100.12 188.35M102.48 184.05L101.36 188.35M104.44 184.05L103.32 188.35M105.68 184.05L104.56 188.35" fill="none" stroke="#484848" stroke-width="0.85"/>
<path d="M53.5 211.6 L53.5 205.1 Q53.5 204.3 54.3 204.3 L115.5 204.3 Q116.3 204.3 116.3 205.1 L116.3 211.6" fill="none" stroke="#555" stroke-width="0.9"/>
<path d="M82.25 197.3L84.9 197.3M81.9 198.7L84.55 198.7M85.45 197.3L88.1 197.3M85.1 198.7L87.75 198.7" fill="none" stroke="#555" stroke-width="0.5"/>
<path d="M83.34 195.85L82.22 200.15M84.58 195.85L83.46 200.15M86.54 195.85L85.42 200.15M87.78 195.85L86.66 200.15" fill="none" stroke="#484848" stroke-width="0.85"/>
<path d="M53.5 221.6 L53.5 217.4 Q53.5 216.6 54.3 216.6 L84.9 216.6 Q85.7 216.6 85.7 217.4 L85.7 221.6" fill="none" stroke="#555" stroke-width="0.9"/>
<path d="M68.65 209.6L71.3 209.6M68.3 211L70.95 211" fill="none" stroke="#555" stroke-width="0.5"/>
<path d="M69.74 208.15L68.62 212.45M70.98 208.15L69.86 212.45" fill="none" stroke="#484848" stroke-width="0.85"/>
<path d="M83.62 229.45L83.62 231.95M82.54 230.07L84.71 231.32M84.71 230.07L82.54 231.32M86.58 229.45L86.58 231.95M85.49 230.07L87.66 231.32M87.66 230.07L85.49 231.32" fill="none" stroke="#505050" stroke-width="0.72"/>
<path d="M113.85 233.55L113.85 236.05M112.77 234.18L114.93 235.43M114.93 234.18L112.77 235.43M116.8 233.55L116.8 236.05M115.72 234.18L117.88 235.43M117.88 234.18L115.72 235.43M119.75 233.55L119.75 236.05M118.67 234.18L120.83 235.43M120.83 234.18L118.67 235.43" fill="none" stroke="#505050" stroke-width="0.72"/>
<path d="M143.85 231.65L143.85 234.15M142.77 232.28L144.93 233.53M144.93 232.28L142.77 233.53M146.8 231.65L146.8 234.15M145.72 232.28L147.88 233.53M147.88 232.28L145.72 233.53M149.75 231.65L149.75 234.15M148.67 232.28L150.83 233.53M150.83 232.28L148.67 233.53" fill="none" stroke="#505050" stroke-width="0.72"/>
<text transform="translate(101 161.8) scale(0.77 1)" font-family='"Liberation Serif", serif' font-size="15.2" font-weight="bold" text-anchor="middle">D</text>
<text x="6.5" y="258.7" font-family='"Liberation Serif", serif' font-size="7.7" font-weight="bold" font-style="normal" text-anchor="middle" fill="#000" transform="rotate(-90 6.5 258.7)" textLength="50" lengthAdjust="spacingAndGlyphs" stroke="#000" stroke-width="0.16">Liver MDA level</text>
<text x="15.5" y="256.8" font-family='"Liberation Serif", serif' font-size="7.9" font-weight="bold" font-style="normal" text-anchor="middle" fill="#000" transform="rotate(-90 15.5 256.8)" textLength="55.8" lengthAdjust="spacingAndGlyphs" stroke="#000" stroke-width="0.16">(nmol/gm tissue)</text>
<line x1="231.7" y1="259.2" x2="231.7" y2="257.2" stroke="#555" stroke-width="0.78" />
<line x1="226.4" y1="257.2" x2="237" y2="257.2" stroke="#555" stroke-width="0.78" />
<pattern id="pc17" x="222.05" y="259.7" width="3.7" height="3.95" patternUnits="userSpaceOnUse"><rect width="3.7" height="3.95" fill="#000"/><rect x="0" y="0" width="1.85" height="1.975" fill="#fff"/><rect x="1.85" y="1.975" width="1.85" height="1.975" fill="#fff"/></pattern>
<rect x="221.75" y="259.2" width="19.9" height="46.1" fill="url(#pc17)" stroke="#111" stroke-width="0.9"/>
<line x1="261.6" y1="251.4" x2="261.6" y2="244.1" stroke="#555" stroke-width="0.78" />
<line x1="256.3" y1="244.1" x2="266.9" y2="244.1" stroke="#555" stroke-width="0.78" />
<rect x="251.65" y="251.4" width="19.9" height="53.9" fill="#fff" stroke="none"/>
<line x1="254.4" y1="251.4" x2="254.4" y2="305.3" stroke="#707070" stroke-width="0.8" />
<line x1="257.2" y1="251.4" x2="257.2" y2="305.3" stroke="#707070" stroke-width="0.8" />
<line x1="260" y1="251.4" x2="260" y2="305.3" stroke="#707070" stroke-width="0.8" />
<line x1="262.8" y1="251.4" x2="262.8" y2="305.3" stroke="#707070" stroke-width="0.8" />
<line x1="265.6" y1="251.4" x2="265.6" y2="305.3" stroke="#707070" stroke-width="0.8" />
<line x1="268.4" y1="251.4" x2="268.4" y2="305.3" stroke="#707070" stroke-width="0.8" />
<line x1="251.65" y1="251.4" x2="251.65" y2="305.3" stroke="#7a7a7a" stroke-width="0.9" />
<line x1="271.55" y1="251.4" x2="271.55" y2="305.3" stroke="#7a7a7a" stroke-width="0.9" />
<line x1="251.2" y1="251.4" x2="272" y2="251.4" stroke="#949494" stroke-width="0.9" />
<line x1="291.5" y1="231.4" x2="291.5" y2="228.4" stroke="#555" stroke-width="0.78" />
<line x1="286.2" y1="228.4" x2="296.8" y2="228.4" stroke="#555" stroke-width="0.78" />
<rect x="281.55" y="231.4" width="19.9" height="73.9" fill="#fff" stroke="none"/>
<line x1="281.55" y1="234.15" x2="301.45" y2="234.15" stroke="#383838" stroke-width="0.8" />
<line x1="281.55" y1="237.1" x2="301.45" y2="237.1" stroke="#383838" stroke-width="0.8" />
<line x1="281.55" y1="240.05" x2="301.45" y2="240.05" stroke="#383838" stroke-width="0.8" />
<line x1="281.55" y1="243" x2="301.45" y2="243" stroke="#383838" stroke-width="0.8" />
<line x1="281.55" y1="245.95" x2="301.45" y2="245.95" stroke="#383838" stroke-width="0.8" />
<line x1="281.55" y1="248.9" x2="301.45" y2="248.9" stroke="#383838" stroke-width="0.8" />
<line x1="281.55" y1="251.85" x2="301.45" y2="251.85" stroke="#383838" stroke-width="0.8" />
<line x1="281.55" y1="254.8" x2="301.45" y2="254.8" stroke="#383838" stroke-width="0.8" />
<line x1="281.55" y1="257.75" x2="301.45" y2="257.75" stroke="#383838" stroke-width="0.8" />
<line x1="281.55" y1="260.7" x2="301.45" y2="260.7" stroke="#383838" stroke-width="0.8" />
<line x1="281.55" y1="263.65" x2="301.45" y2="263.65" stroke="#383838" stroke-width="0.8" />
<line x1="281.55" y1="266.6" x2="301.45" y2="266.6" stroke="#383838" stroke-width="0.8" />
<line x1="281.55" y1="269.55" x2="301.45" y2="269.55" stroke="#383838" stroke-width="0.8" />
<line x1="281.55" y1="272.5" x2="301.45" y2="272.5" stroke="#383838" stroke-width="0.8" />
<line x1="281.55" y1="275.45" x2="301.45" y2="275.45" stroke="#383838" stroke-width="0.8" />
<line x1="281.55" y1="278.4" x2="301.45" y2="278.4" stroke="#383838" stroke-width="0.8" />
<line x1="281.55" y1="281.35" x2="301.45" y2="281.35" stroke="#383838" stroke-width="0.8" />
<line x1="281.55" y1="284.3" x2="301.45" y2="284.3" stroke="#383838" stroke-width="0.8" />
<line x1="281.55" y1="287.25" x2="301.45" y2="287.25" stroke="#383838" stroke-width="0.8" />
<line x1="281.55" y1="290.2" x2="301.45" y2="290.2" stroke="#383838" stroke-width="0.8" />
<line x1="281.55" y1="293.15" x2="301.45" y2="293.15" stroke="#383838" stroke-width="0.8" />
<line x1="281.55" y1="296.1" x2="301.45" y2="296.1" stroke="#383838" stroke-width="0.8" />
<line x1="281.55" y1="299.05" x2="301.45" y2="299.05" stroke="#383838" stroke-width="0.8" />
<line x1="281.55" y1="302" x2="301.45" y2="302" stroke="#383838" stroke-width="0.8" />
<line x1="281.55" y1="231.4" x2="281.55" y2="305.3" stroke="#7a7a7a" stroke-width="0.9" />
<line x1="301.45" y1="231.4" x2="301.45" y2="305.3" stroke="#7a7a7a" stroke-width="0.9" />
<line x1="281.1" y1="231.4" x2="301.9" y2="231.4" stroke="#8a8a8a" stroke-width="0.9" />
<line x1="321.4" y1="226.3" x2="321.4" y2="222.5" stroke="#555" stroke-width="0.78" />
<line x1="316.1" y1="222.5" x2="326.7" y2="222.5" stroke="#555" stroke-width="0.78" />
<pattern id="pd20x" x="311.65" y="227.7" width="2.06" height="4" patternUnits="userSpaceOnUse"><rect width="2.06" height="4" fill="#fff"/><rect x="0.25" y="0.15" width="0.75" height="0.75" fill="#777"/><rect x="1.28" y="2.15" width="0.75" height="0.75" fill="#777"/></pattern>
<rect x="311.45" y="226.3" width="19.9" height="79" fill="url(#pd20x)" stroke="none"/>
<line x1="311.45" y1="226.3" x2="311.45" y2="305.3" stroke="#6e6e6e" stroke-width="0.9" />
<line x1="331.35" y1="226.3" x2="331.35" y2="305.3" stroke="#6e6e6e" stroke-width="0.9" />
<line x1="311" y1="226.3" x2="331.8" y2="226.3" stroke="#555" stroke-width="1.0" />
<line x1="212" y1="213.8" x2="212" y2="305.8" stroke="#1a1a1a" stroke-width="1.1" />
<line x1="211.5" y1="305.3" x2="340.5" y2="305.3" stroke="#1a1a1a" stroke-width="1.1" />
<line x1="231.7" y1="305.3" x2="231.7" y2="308.5" stroke="#1a1a1a" stroke-width="1.0" />
<line x1="261.6" y1="305.3" x2="261.6" y2="308.5" stroke="#1a1a1a" stroke-width="1.0" />
<line x1="291.5" y1="305.3" x2="291.5" y2="308.5" stroke="#1a1a1a" stroke-width="1.0" />
<line x1="321.4" y1="305.3" x2="321.4" y2="308.5" stroke="#1a1a1a" stroke-width="1.0" />
<line x1="209.2" y1="305.3" x2="212" y2="305.3" stroke="#1a1a1a" stroke-width="1.0" />
<text x="208.3" y="308.15" font-family='"Liberation Serif", serif' font-size="7.3" font-weight="bold" font-style="normal" text-anchor="end" fill="#000" stroke="#000" stroke-width="0.12">0.0000</text>
<line x1="209.2" y1="282.5" x2="212" y2="282.5" stroke="#1a1a1a" stroke-width="1.0" />
<text x="208.3" y="285.35" font-family='"Liberation Serif", serif' font-size="7.3" font-weight="bold" font-style="normal" text-anchor="end" fill="#000" stroke="#000" stroke-width="0.12">0.0002</text>
<line x1="209.2" y1="259.8" x2="212" y2="259.8" stroke="#1a1a1a" stroke-width="1.0" />
<text x="208.3" y="262.65" font-family='"Liberation Serif", serif' font-size="7.3" font-weight="bold" font-style="normal" text-anchor="end" fill="#000" stroke="#000" stroke-width="0.12">0.0004</text>
<line x1="209.2" y1="237" x2="212" y2="237" stroke="#1a1a1a" stroke-width="1.0" />
<text x="208.3" y="239.85" font-family='"Liberation Serif", serif' font-size="7.3" font-weight="bold" font-style="normal" text-anchor="end" fill="#000" stroke="#000" stroke-width="0.12">0.0006</text>
<line x1="209.2" y1="214.3" x2="212" y2="214.3" stroke="#1a1a1a" stroke-width="1.0" />
<text x="208.3" y="217.15" font-family='"Liberation Serif", serif' font-size="7.3" font-weight="bold" font-style="normal" text-anchor="end" fill="#000" stroke="#000" stroke-width="0.12">0.0008</text>
<path d="M232.9 179.6 L232.9 176.2 Q232.9 175.4 233.7 175.4 L319 175.4 Q319.8 175.4 319.8 176.2 L319.8 179.6" fill="none" stroke="#555" stroke-width="0.9"/>
<path d="M271.95 168.7L274.6 168.7M271.6 170.1L274.25 170.1M275.15 168.7L277.8 168.7M274.8 170.1L277.45 170.1M278.35 168.7L281 168.7M278 170.1L280.65 170.1" fill="none" stroke="#555" stroke-width="0.5"/>
<path d="M273.04 167.25L271.92 171.55M274.28 167.25L273.16 171.55M276.24 167.25L275.12 171.55M277.48 167.25L276.36 171.55M279.44 167.25L278.32 171.55M280.68 167.25L279.56 171.55" fill="none" stroke="#484848" stroke-width="0.85"/>
<path d="M232.9 192.7 L232.9 187.5 Q232.9 186.7 233.7 186.7 L290.4 186.7 Q291.2 186.7 291.2 187.5 L291.2 192.7" fill="none" stroke="#555" stroke-width="0.9"/>
<path d="M257.45 179.7L260.1 179.7M257.1 181.1L259.75 181.1M260.65 179.7L263.3 179.7M260.3 181.1L262.95 181.1M263.85 179.7L266.5 179.7M263.5 181.1L266.15 181.1" fill="none" stroke="#555" stroke-width="0.5"/>
<path d="M258.54 178.25L257.42 182.55M259.78 178.25L258.66 182.55M261.74 178.25L260.62 182.55M262.98 178.25L261.86 182.55M264.94 178.25L263.82 182.55M266.18 178.25L265.06 182.55" fill="none" stroke="#484848" stroke-width="0.85"/>
<path d="M262.3 209.8 L262.3 203.8 Q262.3 203 263.1 203 L320.2 203 Q321 203 321 203.8 L321 209.8" fill="none" stroke="#555" stroke-width="0.9"/>
<path d="M287.35 196L290 196M287 197.4L289.65 197.4M290.55 196L293.2 196M290.2 197.4L292.85 197.4M293.75 196L296.4 196M293.4 197.4L296.05 197.4" fill="none" stroke="#555" stroke-width="0.5"/>
<path d="M288.44 194.55L287.32 198.85M289.68 194.55L288.56 198.85M291.64 194.55L290.52 198.85M292.88 194.55L291.76 198.85M294.84 194.55L293.72 198.85M296.08 194.55L294.96 198.85" fill="none" stroke="#484848" stroke-width="0.85"/>
<path d="M262.3 219 L262.3 215.6 Q262.3 214.8 263.1 214.8 L289.9 214.8 Q290.7 214.8 290.7 215.6 L290.7 219" fill="none" stroke="#555" stroke-width="0.9"/>
<path d="M271.95 208.1L274.6 208.1M271.6 209.5L274.25 209.5M275.15 208.1L277.8 208.1M274.8 209.5L277.45 209.5M278.35 208.1L281 208.1M278 209.5L280.65 209.5" fill="none" stroke="#555" stroke-width="0.5"/>
<path d="M273.04 206.65L271.92 210.95M274.28 206.65L273.16 210.95M276.24 206.65L275.12 210.95M277.48 206.65L276.36 210.95M279.44 206.65L278.32 210.95M280.68 206.65L279.56 210.95" fill="none" stroke="#484848" stroke-width="0.85"/>
<path d="M231.9 233.2 L231.9 229.6 Q231.9 228.8 232.7 228.8 L261.7 228.8 Q262.5 228.8 262.5 229.6 L262.5 233.2" fill="none" stroke="#555" stroke-width="0.9"/>
<path d="M245.55 221.3L248.2 221.3M245.2 222.7L247.85 222.7" fill="none" stroke="#555" stroke-width="0.5"/>
<path d="M246.64 219.85L245.52 224.15M247.88 219.85L246.76 224.15" fill="none" stroke="#484848" stroke-width="0.85"/>
<path d="M260.02 236.35L260.02 238.85M258.94 236.97L261.11 238.22M261.11 236.97L258.94 238.22M262.97 236.35L262.97 238.85M261.89 236.97L264.06 238.22M264.06 236.97L261.89 238.22" fill="none" stroke="#505050" stroke-width="0.72"/>
<path d="M288.05 221.35L288.05 223.85M286.97 221.97L289.13 223.22M289.13 221.97L286.97 223.22M291 221.35L291 223.85M289.92 221.97L292.08 223.22M292.08 221.97L289.92 223.22M293.95 221.35L293.95 223.85M292.87 221.97L295.03 223.22M295.03 221.97L292.87 223.22" fill="none" stroke="#505050" stroke-width="0.72"/>
<path d="M318.05 215.35L318.05 217.85M316.97 215.97L319.13 217.22M319.13 215.97L316.97 217.22M321 215.35L321 217.85M319.92 215.97L322.08 217.22M322.08 215.97L319.92 217.22M323.95 215.35L323.95 217.85M322.87 215.97L325.03 217.22M325.03 215.97L322.87 217.22" fill="none" stroke="#505050" stroke-width="0.72"/>
<text transform="translate(276.8 161.8) scale(0.77 1)" font-family='"Liberation Serif", serif' font-size="15.2" font-weight="bold" text-anchor="middle">E</text>
<text x="174" y="260.5" font-family='"Liberation Serif", serif' font-size="7.7" font-weight="bold" font-style="normal" text-anchor="middle" fill="#000" transform="rotate(-90 174 260.5)" textLength="32.9" lengthAdjust="spacingAndGlyphs" stroke="#000" stroke-width="0.16">Liver GSH</text>
<text x="181.6" y="258.5" font-family='"Liberation Serif", serif' font-size="7.9" font-weight="bold" font-style="normal" text-anchor="middle" fill="#000" transform="rotate(-90 181.6 258.5)" textLength="69.9" lengthAdjust="spacingAndGlyphs" stroke="#000" stroke-width="0.16">level (nmol/gm tissue)</text>
<line x1="398.3" y1="270.8" x2="398.3" y2="267.3" stroke="#555" stroke-width="0.78" />
<line x1="393" y1="267.3" x2="403.6" y2="267.3" stroke="#555" stroke-width="0.78" />
<pattern id="pc21" x="388.4" y="271.3" width="3.7" height="3.95" patternUnits="userSpaceOnUse"><rect width="3.7" height="3.95" fill="#000"/><rect x="0" y="0" width="1.85" height="1.975" fill="#fff"/><rect x="1.85" y="1.975" width="1.85" height="1.975" fill="#fff"/></pattern>
<rect x="388.1" y="270.8" width="20.4" height="35.1" fill="url(#pc21)" stroke="#111" stroke-width="0.9"/>
<line x1="430" y1="259.5" x2="430" y2="252.2" stroke="#555" stroke-width="0.78" />
<line x1="424.7" y1="252.2" x2="435.3" y2="252.2" stroke="#555" stroke-width="0.78" />
<rect x="419.8" y="259.5" width="20.4" height="46.4" fill="#fff" stroke="none"/>
<line x1="422.55" y1="259.5" x2="422.55" y2="305.9" stroke="#707070" stroke-width="0.8" />
<line x1="425.35" y1="259.5" x2="425.35" y2="305.9" stroke="#707070" stroke-width="0.8" />
<line x1="428.15" y1="259.5" x2="428.15" y2="305.9" stroke="#707070" stroke-width="0.8" />
<line x1="430.95" y1="259.5" x2="430.95" y2="305.9" stroke="#707070" stroke-width="0.8" />
<line x1="433.75" y1="259.5" x2="433.75" y2="305.9" stroke="#707070" stroke-width="0.8" />
<line x1="436.55" y1="259.5" x2="436.55" y2="305.9" stroke="#707070" stroke-width="0.8" />
<line x1="419.8" y1="259.5" x2="419.8" y2="305.9" stroke="#7a7a7a" stroke-width="0.9" />
<line x1="440.2" y1="259.5" x2="440.2" y2="305.9" stroke="#7a7a7a" stroke-width="0.9" />
<line x1="419.35" y1="259.5" x2="440.65" y2="259.5" stroke="#949494" stroke-width="0.9" />
<line x1="461.9" y1="245.3" x2="461.9" y2="241.2" stroke="#555" stroke-width="0.78" />
<line x1="456.6" y1="241.2" x2="467.2" y2="241.2" stroke="#555" stroke-width="0.78" />
<rect x="451.7" y="245.3" width="20.4" height="60.6" fill="#fff" stroke="none"/>
<line x1="451.7" y1="248.05" x2="472.1" y2="248.05" stroke="#383838" stroke-width="0.8" />
<line x1="451.7" y1="251" x2="472.1" y2="251" stroke="#383838" stroke-width="0.8" />
<line x1="451.7" y1="253.95" x2="472.1" y2="253.95" stroke="#383838" stroke-width="0.8" />
<line x1="451.7" y1="256.9" x2="472.1" y2="256.9" stroke="#383838" stroke-width="0.8" />
<line x1="451.7" y1="259.85" x2="472.1" y2="259.85" stroke="#383838" stroke-width="0.8" />
<line x1="451.7" y1="262.8" x2="472.1" y2="262.8" stroke="#383838" stroke-width="0.8" />
<line x1="451.7" y1="265.75" x2="472.1" y2="265.75" stroke="#383838" stroke-width="0.8" />
<line x1="451.7" y1="268.7" x2="472.1" y2="268.7" stroke="#383838" stroke-width="0.8" />
<line x1="451.7" y1="271.65" x2="472.1" y2="271.65" stroke="#383838" stroke-width="0.8" />
<line x1="451.7" y1="274.6" x2="472.1" y2="274.6" stroke="#383838" stroke-width="0.8" />
<line x1="451.7" y1="277.55" x2="472.1" y2="277.55" stroke="#383838" stroke-width="0.8" />
<line x1="451.7" y1="280.5" x2="472.1" y2="280.5" stroke="#383838" stroke-width="0.8" />
<line x1="451.7" y1="283.45" x2="472.1" y2="283.45" stroke="#383838" stroke-width="0.8" />
<line x1="451.7" y1="286.4" x2="472.1" y2="286.4" stroke="#383838" stroke-width="0.8" />
<line x1="451.7" y1="289.35" x2="472.1" y2="289.35" stroke="#383838" stroke-width="0.8" />
<line x1="451.7" y1="292.3" x2="472.1" y2="292.3" stroke="#383838" stroke-width="0.8" />
<line x1="451.7" y1="295.25" x2="472.1" y2="295.25" stroke="#383838" stroke-width="0.8" />
<line x1="451.7" y1="298.2" x2="472.1" y2="298.2" stroke="#383838" stroke-width="0.8" />
<line x1="451.7" y1="301.15" x2="472.1" y2="301.15" stroke="#383838" stroke-width="0.8" />
<line x1="451.7" y1="304.1" x2="472.1" y2="304.1" stroke="#383838" stroke-width="0.8" />
<line x1="451.7" y1="245.3" x2="451.7" y2="305.9" stroke="#7a7a7a" stroke-width="0.9" />
<line x1="472.1" y1="245.3" x2="472.1" y2="305.9" stroke="#7a7a7a" stroke-width="0.9" />
<line x1="451.25" y1="245.3" x2="472.55" y2="245.3" stroke="#8a8a8a" stroke-width="0.9" />
<line x1="494" y1="236.3" x2="494" y2="233.3" stroke="#555" stroke-width="0.78" />
<line x1="488.7" y1="233.3" x2="499.3" y2="233.3" stroke="#555" stroke-width="0.78" />
<pattern id="pd24x" x="484" y="237.7" width="2.06" height="4" patternUnits="userSpaceOnUse"><rect width="2.06" height="4" fill="#fff"/><rect x="0.25" y="0.15" width="0.75" height="0.75" fill="#777"/><rect x="1.28" y="2.15" width="0.75" height="0.75" fill="#777"/></pattern>
<rect x="483.8" y="236.3" width="20.4" height="69.6" fill="url(#pd24x)" stroke="none"/>
<line x1="483.8" y1="236.3" x2="483.8" y2="305.9" stroke="#6e6e6e" stroke-width="0.9" />
<line x1="504.2" y1="236.3" x2="504.2" y2="305.9" stroke="#6e6e6e" stroke-width="0.9" />
<line x1="483.35" y1="236.3" x2="504.65" y2="236.3" stroke="#555" stroke-width="1.0" />
<line x1="377" y1="212.4" x2="377" y2="306.4" stroke="#1a1a1a" stroke-width="1.1" />
<line x1="376.5" y1="305.9" x2="515" y2="305.9" stroke="#1a1a1a" stroke-width="1.1" />
<line x1="398.3" y1="305.9" x2="398.3" y2="309.1" stroke="#1a1a1a" stroke-width="1.0" />
<line x1="430" y1="305.9" x2="430" y2="309.1" stroke="#1a1a1a" stroke-width="1.0" />
<line x1="461.9" y1="305.9" x2="461.9" y2="309.1" stroke="#1a1a1a" stroke-width="1.0" />
<line x1="494" y1="305.9" x2="494" y2="309.1" stroke="#1a1a1a" stroke-width="1.0" />
<line x1="374.2" y1="305.9" x2="377" y2="305.9" stroke="#1a1a1a" stroke-width="1.0" />
<text x="373.3" y="308.75" font-family='"Liberation Serif", serif' font-size="7.3" font-weight="bold" font-style="normal" text-anchor="end" fill="#000" stroke="#000" stroke-width="0.12">0</text>
<line x1="374.2" y1="287.3" x2="377" y2="287.3" stroke="#1a1a1a" stroke-width="1.0" />
<text x="373.3" y="290.15" font-family='"Liberation Serif", serif' font-size="7.3" font-weight="bold" font-style="normal" text-anchor="end" fill="#000" stroke="#000" stroke-width="0.12">5</text>
<line x1="374.2" y1="268.7" x2="377" y2="268.7" stroke="#1a1a1a" stroke-width="1.0" />
<text x="373.3" y="271.55" font-family='"Liberation Serif", serif' font-size="7.3" font-weight="bold" font-style="normal" text-anchor="end" fill="#000" stroke="#000" stroke-width="0.12">10</text>
<line x1="374.2" y1="250.1" x2="377" y2="250.1" stroke="#1a1a1a" stroke-width="1.0" />
<text x="373.3" y="252.95" font-family='"Liberation Serif", serif' font-size="7.3" font-weight="bold" font-style="normal" text-anchor="end" fill="#000" stroke="#000" stroke-width="0.12">15</text>
<line x1="374.2" y1="231.5" x2="377" y2="231.5" stroke="#1a1a1a" stroke-width="1.0" />
<text x="373.3" y="234.35" font-family='"Liberation Serif", serif' font-size="7.3" font-weight="bold" font-style="normal" text-anchor="end" fill="#000" stroke="#000" stroke-width="0.12">20</text>
<line x1="374.2" y1="212.9" x2="377" y2="212.9" stroke="#1a1a1a" stroke-width="1.0" />
<text x="373.3" y="215.75" font-family='"Liberation Serif", serif' font-size="7.3" font-weight="bold" font-style="normal" text-anchor="end" fill="#000" stroke="#000" stroke-width="0.12">25</text>
<path d="M399.4 183.4 L399.4 180.4 Q399.4 179.6 400.2 179.6 L491.3 179.6 Q492.1 179.6 492.1 180.4 L492.1 183.4" fill="none" stroke="#555" stroke-width="0.9"/>
<path d="M441.25 172.2L443.9 172.2M440.9 173.6L443.55 173.6M444.45 172.2L447.1 172.2M444.1 173.6L446.75 173.6M447.65 172.2L450.3 172.2M447.3 173.6L449.95 173.6" fill="none" stroke="#555" stroke-width="0.5"/>
<path d="M442.34 170.75L441.22 175.05M443.58 170.75L442.46 175.05M445.54 170.75L444.42 175.05M446.78 170.75L445.66 175.05M448.74 170.75L447.62 175.05M449.98 170.75L448.86 175.05" fill="none" stroke="#484848" stroke-width="0.85"/>
<path d="M399.4 196.5 L399.4 190.2 Q399.4 189.4 400.2 189.4 L461.1 189.4 Q461.9 189.4 461.9 190.2 L461.9 196.5" fill="none" stroke="#555" stroke-width="0.9"/>
<path d="M426.15 182.5L428.8 182.5M425.8 183.9L428.45 183.9M429.35 182.5L432 182.5M429 183.9L431.65 183.9M432.55 182.5L435.2 182.5M432.2 183.9L434.85 183.9" fill="none" stroke="#555" stroke-width="0.5"/>
<path d="M427.24 181.05L426.12 185.35M428.48 181.05L427.36 185.35M430.44 181.05L429.32 185.35M431.68 181.05L430.56 185.35M433.64 181.05L432.52 185.35M434.88 181.05L433.76 185.35" fill="none" stroke="#484848" stroke-width="0.85"/>
<path d="M431.8 214 L431.8 208.6 Q431.8 207.8 432.6 207.8 L493 207.8 Q493.8 207.8 493.8 208.6 L493.8 214" fill="none" stroke="#555" stroke-width="0.9"/>
<path d="M458.05 200.6L460.7 200.6M457.7 202L460.35 202M461.25 200.6L463.9 200.6M460.9 202L463.55 202M464.45 200.6L467.1 200.6M464.1 202L466.75 202" fill="none" stroke="#555" stroke-width="0.5"/>
<path d="M459.14 199.15L458.02 203.45M460.38 199.15L459.26 203.45M462.34 199.15L461.22 203.45M463.58 199.15L462.46 203.45M465.54 199.15L464.42 203.45M466.78 199.15L465.66 203.45" fill="none" stroke="#484848" stroke-width="0.85"/>
<path d="M460.7 221.7 L460.7 218.5 Q460.7 217.7 461.5 217.7 L493.8 217.7 Q494.6 217.7 494.6 218.5 L494.6 221.7" fill="none" stroke="#8c8c8c" stroke-width="0.9"/>
<path d="M474.75 210.3L477.4 210.3M474.4 211.7L477.05 211.7M477.95 210.3L480.6 210.3M477.6 211.7L480.25 211.7" fill="none" stroke="#555" stroke-width="0.5"/>
<path d="M475.84 208.85L474.72 213.15M477.08 208.85L475.96 213.15M479.04 208.85L477.92 213.15M480.28 208.85L479.16 213.15" fill="none" stroke="#484848" stroke-width="0.85"/>
<path d="M431.7 227.6 L431.7 224.3 Q431.7 223.5 432.5 223.5 L460.2 223.5 Q461 223.5 461 224.3 L461 227.6" fill="none" stroke="#555" stroke-width="0.9"/>
<path d="M441.75 216.7L444.4 216.7M441.4 218.1L444.05 218.1M444.95 216.7L447.6 216.7M444.6 218.1L447.25 218.1M448.15 216.7L450.8 216.7M447.8 218.1L450.45 218.1" fill="none" stroke="#555" stroke-width="0.5"/>
<path d="M442.84 215.25L441.72 219.55M444.08 215.25L442.96 219.55M446.04 215.25L444.92 219.55M447.28 215.25L446.16 219.55M449.24 215.25L448.12 219.55M450.48 215.25L449.36 219.55" fill="none" stroke="#484848" stroke-width="0.85"/>
<path d="M398.3 242.8 L398.3 239.4 Q398.3 238.6 399.1 238.6 L429.7 238.6 Q430.5 238.6 430.5 239.4 L430.5 242.8" fill="none" stroke="#555" stroke-width="0.9"/>
<path d="M411.65 231.9L414.3 231.9M411.3 233.3L413.95 233.3M414.85 231.9L417.5 231.9M414.5 233.3L417.15 233.3" fill="none" stroke="#555" stroke-width="0.5"/>
<path d="M412.74 230.45L411.62 234.75M413.98 230.45L412.86 234.75M415.94 230.45L414.82 234.75M417.18 230.45L416.06 234.75" fill="none" stroke="#484848" stroke-width="0.85"/>
<path d="M428.52 245.75L428.52 248.25M427.44 246.38L429.61 247.62M429.61 246.38L427.44 247.62M431.47 245.75L431.47 248.25M430.39 246.38L432.56 247.62M432.56 246.38L430.39 247.62" fill="none" stroke="#505050" stroke-width="0.72"/>
<path d="M458.95 233.85L458.95 236.35M457.87 234.47L460.03 235.72M460.03 234.47L457.87 235.72M461.9 233.85L461.9 236.35M460.82 234.47L462.98 235.72M462.98 234.47L460.82 235.72M464.85 233.85L464.85 236.35M463.77 234.47L465.93 235.72M465.93 234.47L463.77 235.72" fill="none" stroke="#505050" stroke-width="0.72"/>
<path d="M490.35 226.35L490.35 228.85M489.27 226.97L491.43 228.22M491.43 226.97L489.27 228.22M493.3 226.35L493.3 228.85M492.22 226.97L494.38 228.22M494.38 226.97L492.22 228.22M496.25 226.35L496.25 228.85M495.17 226.97L497.33 228.22M497.33 226.97L495.17 228.22" fill="none" stroke="#505050" stroke-width="0.72"/>
<text transform="translate(445.6 161.8) scale(0.77 1)" font-family='"Liberation Serif", serif' font-size="15.2" font-weight="bold" text-anchor="middle">F</text>
<text x="348.6" y="258.9" font-family='"Liberation Serif", serif' font-size="7.7" font-weight="bold" font-style="normal" text-anchor="middle" fill="#000" transform="rotate(-90 348.6 258.9)" textLength="39.1" lengthAdjust="spacingAndGlyphs" stroke="#000" stroke-width="0.16">CAT activity</text>
<text x="358.2" y="258.5" font-family='"Liberation Serif", serif' font-size="7.9" font-weight="bold" font-style="normal" text-anchor="middle" fill="#000" transform="rotate(-90 358.2 258.5)" textLength="57.7" lengthAdjust="spacingAndGlyphs" stroke="#000" stroke-width="0.16">(U/min/gm tissue)</text>
<line x1="569.4" y1="264.5" x2="569.4" y2="260.7" stroke="#555" stroke-width="0.78" />
<line x1="564.1" y1="260.7" x2="574.7" y2="260.7" stroke="#555" stroke-width="0.78" />
<pattern id="pc25" x="559.8" y="265" width="3.7" height="3.95" patternUnits="userSpaceOnUse"><rect width="3.7" height="3.95" fill="#000"/><rect x="0" y="0" width="1.85" height="1.975" fill="#fff"/><rect x="1.85" y="1.975" width="1.85" height="1.975" fill="#fff"/></pattern>
<rect x="559.5" y="264.5" width="19.8" height="42.1" fill="url(#pc25)" stroke="#111" stroke-width="0.9"/>
<line x1="600.4" y1="258.2" x2="600.4" y2="255.2" stroke="#555" stroke-width="0.78" />
<line x1="595.1" y1="255.2" x2="605.7" y2="255.2" stroke="#555" stroke-width="0.78" />
<rect x="590.5" y="258.2" width="19.8" height="48.4" fill="#fff" stroke="none"/>
<line x1="593.25" y1="258.2" x2="593.25" y2="306.6" stroke="#707070" stroke-width="0.8" />
<line x1="596.05" y1="258.2" x2="596.05" y2="306.6" stroke="#707070" stroke-width="0.8" />
<line x1="598.85" y1="258.2" x2="598.85" y2="306.6" stroke="#707070" stroke-width="0.8" />
<line x1="601.65" y1="258.2" x2="601.65" y2="306.6" stroke="#707070" stroke-width="0.8" />
<line x1="604.45" y1="258.2" x2="604.45" y2="306.6" stroke="#707070" stroke-width="0.8" />
<line x1="607.25" y1="258.2" x2="607.25" y2="306.6" stroke="#707070" stroke-width="0.8" />
<line x1="590.5" y1="258.2" x2="590.5" y2="306.6" stroke="#7a7a7a" stroke-width="0.9" />
<line x1="610.3" y1="258.2" x2="610.3" y2="306.6" stroke="#7a7a7a" stroke-width="0.9" />
<line x1="590.05" y1="258.2" x2="610.75" y2="258.2" stroke="#949494" stroke-width="0.9" />
<line x1="631.5" y1="246.4" x2="631.5" y2="243.6" stroke="#555" stroke-width="0.78" />
<line x1="626.2" y1="243.6" x2="636.8" y2="243.6" stroke="#555" stroke-width="0.78" />
<rect x="621.6" y="246.4" width="19.8" height="60.2" fill="#fff" stroke="none"/>
<line x1="621.6" y1="249.15" x2="641.4" y2="249.15" stroke="#383838" stroke-width="0.8" />
<line x1="621.6" y1="252.1" x2="641.4" y2="252.1" stroke="#383838" stroke-width="0.8" />
<line x1="621.6" y1="255.05" x2="641.4" y2="255.05" stroke="#383838" stroke-width="0.8" />
<line x1="621.6" y1="258" x2="641.4" y2="258" stroke="#383838" stroke-width="0.8" />
<line x1="621.6" y1="260.95" x2="641.4" y2="260.95" stroke="#383838" stroke-width="0.8" />
<line x1="621.6" y1="263.9" x2="641.4" y2="263.9" stroke="#383838" stroke-width="0.8" />
<line x1="621.6" y1="266.85" x2="641.4" y2="266.85" stroke="#383838" stroke-width="0.8" />
<line x1="621.6" y1="269.8" x2="641.4" y2="269.8" stroke="#383838" stroke-width="0.8" />
<line x1="621.6" y1="272.75" x2="641.4" y2="272.75" stroke="#383838" stroke-width="0.8" />
<line x1="621.6" y1="275.7" x2="641.4" y2="275.7" stroke="#383838" stroke-width="0.8" />
<line x1="621.6" y1="278.65" x2="641.4" y2="278.65" stroke="#383838" stroke-width="0.8" />
<line x1="621.6" y1="281.6" x2="641.4" y2="281.6" stroke="#383838" stroke-width="0.8" />
<line x1="621.6" y1="284.55" x2="641.4" y2="284.55" stroke="#383838" stroke-width="0.8" />
<line x1="621.6" y1="287.5" x2="641.4" y2="287.5" stroke="#383838" stroke-width="0.8" />
<line x1="621.6" y1="290.45" x2="641.4" y2="290.45" stroke="#383838" stroke-width="0.8" />
<line x1="621.6" y1="293.4" x2="641.4" y2="293.4" stroke="#383838" stroke-width="0.8" />
<line x1="621.6" y1="296.35" x2="641.4" y2="296.35" stroke="#383838" stroke-width="0.8" />
<line x1="621.6" y1="299.3" x2="641.4" y2="299.3" stroke="#383838" stroke-width="0.8" />
<line x1="621.6" y1="302.25" x2="641.4" y2="302.25" stroke="#383838" stroke-width="0.8" />
<line x1="621.6" y1="305.2" x2="641.4" y2="305.2" stroke="#383838" stroke-width="0.8" />
<line x1="621.6" y1="246.4" x2="621.6" y2="306.6" stroke="#7a7a7a" stroke-width="0.9" />
<line x1="641.4" y1="246.4" x2="641.4" y2="306.6" stroke="#7a7a7a" stroke-width="0.9" />
<line x1="621.15" y1="246.4" x2="641.85" y2="246.4" stroke="#8a8a8a" stroke-width="0.9" />
<line x1="662.6" y1="243.9" x2="662.6" y2="241.4" stroke="#555" stroke-width="0.78" />
<line x1="657.3" y1="241.4" x2="667.9" y2="241.4" stroke="#555" stroke-width="0.78" />
<pattern id="pd28x" x="652.9" y="245.3" width="2.06" height="4" patternUnits="userSpaceOnUse"><rect width="2.06" height="4" fill="#fff"/><rect x="0.25" y="0.15" width="0.75" height="0.75" fill="#777"/><rect x="1.28" y="2.15" width="0.75" height="0.75" fill="#777"/></pattern>
<rect x="652.7" y="243.9" width="19.8" height="62.7" fill="url(#pd28x)" stroke="none"/>
<line x1="652.7" y1="243.9" x2="652.7" y2="306.6" stroke="#6e6e6e" stroke-width="0.9" />
<line x1="672.5" y1="243.9" x2="672.5" y2="306.6" stroke="#6e6e6e" stroke-width="0.9" />
<line x1="652.25" y1="243.9" x2="672.95" y2="243.9" stroke="#555" stroke-width="1.0" />
<line x1="548.2" y1="212.3" x2="548.2" y2="307.1" stroke="#1a1a1a" stroke-width="1.1" />
<line x1="547.7" y1="306.6" x2="686" y2="306.6" stroke="#1a1a1a" stroke-width="1.1" />
<line x1="569.4" y1="306.6" x2="569.4" y2="309.8" stroke="#1a1a1a" stroke-width="1.0" />
<line x1="600.4" y1="306.6" x2="600.4" y2="309.8" stroke="#1a1a1a" stroke-width="1.0" />
<line x1="631.5" y1="306.6" x2="631.5" y2="309.8" stroke="#1a1a1a" stroke-width="1.0" />
<line x1="662.6" y1="306.6" x2="662.6" y2="309.8" stroke="#1a1a1a" stroke-width="1.0" />
<line x1="545.4" y1="306.6" x2="548.2" y2="306.6" stroke="#1a1a1a" stroke-width="1.0" />
<text x="544.5" y="309.45" font-family='"Liberation Serif", serif' font-size="7.3" font-weight="bold" font-style="normal" text-anchor="end" fill="#000" stroke="#000" stroke-width="0.12">0</text>
<line x1="545.4" y1="275.4" x2="548.2" y2="275.4" stroke="#1a1a1a" stroke-width="1.0" />
<text x="544.5" y="278.25" font-family='"Liberation Serif", serif' font-size="7.3" font-weight="bold" font-style="normal" text-anchor="end" fill="#000" stroke="#000" stroke-width="0.12">5</text>
<line x1="545.4" y1="244" x2="548.2" y2="244" stroke="#1a1a1a" stroke-width="1.0" />
<text x="544.5" y="246.85" font-family='"Liberation Serif", serif' font-size="7.3" font-weight="bold" font-style="normal" text-anchor="end" fill="#000" stroke="#000" stroke-width="0.12">10</text>
<line x1="545.4" y1="212.8" x2="548.2" y2="212.8" stroke="#1a1a1a" stroke-width="1.0" />
<text x="544.5" y="215.65" font-family='"Liberation Serif", serif' font-size="7.3" font-weight="bold" font-style="normal" text-anchor="end" fill="#000" stroke="#000" stroke-width="0.12">15</text>
<path d="M570.5 195.7 L570.5 192 Q570.5 191.2 571.3 191.2 L661.7 191.2 Q662.5 191.2 662.5 192 L662.5 195.7" fill="none" stroke="#555" stroke-width="0.9"/>
<path d="M611.95 184L614.6 184M611.6 185.4L614.25 185.4M615.15 184L617.8 184M614.8 185.4L617.45 185.4M618.35 184L621 184M618 185.4L620.65 185.4" fill="none" stroke="#555" stroke-width="0.5"/>
<path d="M613.04 182.55L611.92 186.85M614.28 182.55L613.16 186.85M616.24 182.55L615.12 186.85M617.48 182.55L616.36 186.85M619.44 182.55L618.32 186.85M620.68 182.55L619.56 186.85" fill="none" stroke="#484848" stroke-width="0.85"/>
<path d="M570.5 209.5 L570.5 203.1 Q570.5 202.3 571.3 202.3 L630.3 202.3 Q631.1 202.3 631.1 203.1 L631.1 209.5" fill="none" stroke="#555" stroke-width="0.9"/>
<path d="M596.35 195L599 195M596 196.4L598.65 196.4M599.55 195L602.2 195M599.2 196.4L601.85 196.4M602.75 195L605.4 195M602.4 196.4L605.05 196.4" fill="none" stroke="#555" stroke-width="0.5"/>
<path d="M597.44 193.55L596.32 197.85M598.68 193.55L597.56 197.85M600.64 193.55L599.52 197.85M601.88 193.55L600.76 197.85M603.84 193.55L602.72 197.85M605.08 193.55L603.96 197.85" fill="none" stroke="#484848" stroke-width="0.85"/>
<path d="M602.2 226.3 L602.2 220 Q602.2 219.2 603 219.2 L661.9 219.2 Q662.7 219.2 662.7 220 L662.7 226.3" fill="none" stroke="#555" stroke-width="0.9"/>
<path d="M627.75 211.6L630.4 211.6M627.4 213L630.05 213M630.95 211.6L633.6 211.6M630.6 213L633.25 213M634.15 211.6L636.8 211.6M633.8 213L636.45 213" fill="none" stroke="#555" stroke-width="0.5"/>
<path d="M628.84 210.15L627.72 214.45M630.08 210.15L628.96 214.45M632.04 210.15L630.92 214.45M633.28 210.15L632.16 214.45M635.24 210.15L634.12 214.45M636.48 210.15L635.36 214.45" fill="none" stroke="#484848" stroke-width="0.85"/>
<path d="M601.6 234.3 L601.6 231.1 Q601.6 230.3 602.4 230.3 L629.8 230.3 Q630.6 230.3 630.6 231.1 L630.6 234.3" fill="none" stroke="#555" stroke-width="0.9"/>
<path d="M611.65 223.1L614.3 223.1M611.3 224.5L613.95 224.5M614.85 223.1L617.5 223.1M614.5 224.5L617.15 224.5M618.05 223.1L620.7 223.1M617.7 224.5L620.35 224.5" fill="none" stroke="#555" stroke-width="0.5"/>
<path d="M612.74 221.65L611.62 225.95M613.98 221.65L612.86 225.95M615.94 221.65L614.82 225.95M617.18 221.65L616.06 225.95M619.14 221.65L618.02 225.95M620.38 221.65L619.26 225.95" fill="none" stroke="#484848" stroke-width="0.85"/>
<path d="M570.3 246.6 L570.3 242.3 Q570.3 241.5 571.1 241.5 L601.4 241.5 Q602.2 241.5 602.2 242.3 L602.2 246.6" fill="none" stroke="#555" stroke-width="0.9"/>
<path d="M583.45 234.5L586.1 234.5M583.1 235.9L585.75 235.9M586.65 234.5L589.3 234.5M586.3 235.9L588.95 235.9" fill="none" stroke="#555" stroke-width="0.5"/>
<path d="M584.54 233.05L583.42 237.35M585.78 233.05L584.66 237.35M587.74 233.05L586.62 237.35M588.98 233.05L587.86 237.35" fill="none" stroke="#484848" stroke-width="0.85"/>
<path d="M598.73 248.45L598.73 250.95M597.64 249.07L599.81 250.32M599.81 249.07L597.64 250.32M601.68 248.45L601.68 250.95M600.59 249.07L602.76 250.32M602.76 249.07L600.59 250.32" fill="none" stroke="#505050" stroke-width="0.72"/>
<path d="M628.85 236.85L628.85 239.35M627.77 237.47L629.93 238.72M629.93 237.47L627.77 238.72M631.8 236.85L631.8 239.35M630.72 237.47L632.88 238.72M632.88 237.47L630.72 238.72M634.75 236.85L634.75 239.35M633.67 237.47L635.83 238.72M635.83 237.47L633.67 238.72" fill="none" stroke="#505050" stroke-width="0.72"/>
<path d="M659.25 233.85L659.25 236.35M658.17 234.47L660.33 235.72M660.33 234.47L658.17 235.72M662.2 233.85L662.2 236.35M661.12 234.47L663.28 235.72M663.28 234.47L661.12 235.72M665.15 233.85L665.15 236.35M664.07 234.47L666.23 235.72M666.23 234.47L664.07 235.72" fill="none" stroke="#505050" stroke-width="0.72"/>
<text transform="translate(615 161.8) scale(0.77 1)" font-family='"Liberation Serif", serif' font-size="15.2" font-weight="bold" text-anchor="middle">G</text>
<text x="525.6" y="260.2" font-family='"Liberation Serif", serif' font-size="7.7" font-weight="bold" font-style="normal" text-anchor="middle" fill="#000" transform="rotate(-90 525.6 260.2)" textLength="40.1" lengthAdjust="spacingAndGlyphs" stroke="#000" stroke-width="0.16">SOD activity</text>
<text x="533.5" y="260" font-family='"Liberation Serif", serif' font-size="7.9" font-weight="bold" font-style="normal" text-anchor="middle" fill="#000" transform="rotate(-90 533.5 260)" textLength="43.2" lengthAdjust="spacingAndGlyphs" stroke="#000" stroke-width="0.16">(U/gm tissue)</text>
<rect x="544.3" y="26.6" width="14.6" height="8.6" fill="#000"/>
<rect x="547.5" y="28.5" width="2.3" height="2.5" fill="#fff"/>
<rect x="551.8" y="28.5" width="2.3" height="2.5" fill="#fff"/>
<rect x="556.1" y="28.5" width="2.3" height="2.5" fill="#fff"/>
<rect x="545.4" y="31.1" width="2.3" height="2.5" fill="#fff"/>
<rect x="549.7" y="31.1" width="2.3" height="2.5" fill="#fff"/>
<rect x="554" y="31.1" width="2.3" height="2.5" fill="#fff"/>
<text x="567.2" y="36" font-family='"Liberation Serif", serif' font-size="17" font-weight="normal" font-style="normal" text-anchor="start" fill="#000" textLength="75.9" lengthAdjust="spacingAndGlyphs" >Arthritic Control</text>
<rect x="544.9" y="50.5" width="13.4" height="7.3999999999999995" fill="#fff" stroke="#000" stroke-width="1.3"/>
<line x1="549.5" y1="50.9" x2="549.5" y2="57.5" stroke="#000" stroke-width="1.0" />
<line x1="553.7" y1="50.9" x2="553.7" y2="57.5" stroke="#000" stroke-width="1.0" />
<text x="567.2" y="59" font-family='"Liberation Serif", serif' font-size="17" font-weight="normal" font-style="normal" text-anchor="start" fill="#000" textLength="93" lengthAdjust="spacingAndGlyphs" >Low Dose of EDME</text>
<rect x="544.9" y="74.3" width="13.4" height="7.3999999999999995" fill="#fff" stroke="#000" stroke-width="1.3"/>
<line x1="545.3" y1="78.3" x2="557.9" y2="78.3" stroke="#666" stroke-width="1.0" />
<line x1="545.3" y1="80" x2="557.9" y2="80" stroke="#222" stroke-width="1.0" />
<text x="567.2" y="82.3" font-family='"Liberation Serif", serif' font-size="17" font-weight="normal" font-style="normal" text-anchor="start" fill="#000" textLength="94.4" lengthAdjust="spacingAndGlyphs" >High Dose of EDME</text>
<rect x="544.9" y="98.0" width="13.4" height="7.3999999999999995" fill="#fff" stroke="#000" stroke-width="1.3"/>
<rect x="547.5" y="101.3" width="0.9" height="0.9" fill="#666"/>
<rect x="549.9" y="101.3" width="0.9" height="0.9" fill="#666"/>
<rect x="552.3" y="101.3" width="0.9" height="0.9" fill="#666"/>
<rect x="554.7" y="101.3" width="0.9" height="0.9" fill="#666"/>
<text x="567.2" y="105.9" font-family='"Liberation Serif", serif' font-size="17" font-weight="normal" font-style="normal" text-anchor="start" fill="#000" textLength="70.1" lengthAdjust="spacingAndGlyphs" >Vehicle Control</text>
</svg>
</body></html>
